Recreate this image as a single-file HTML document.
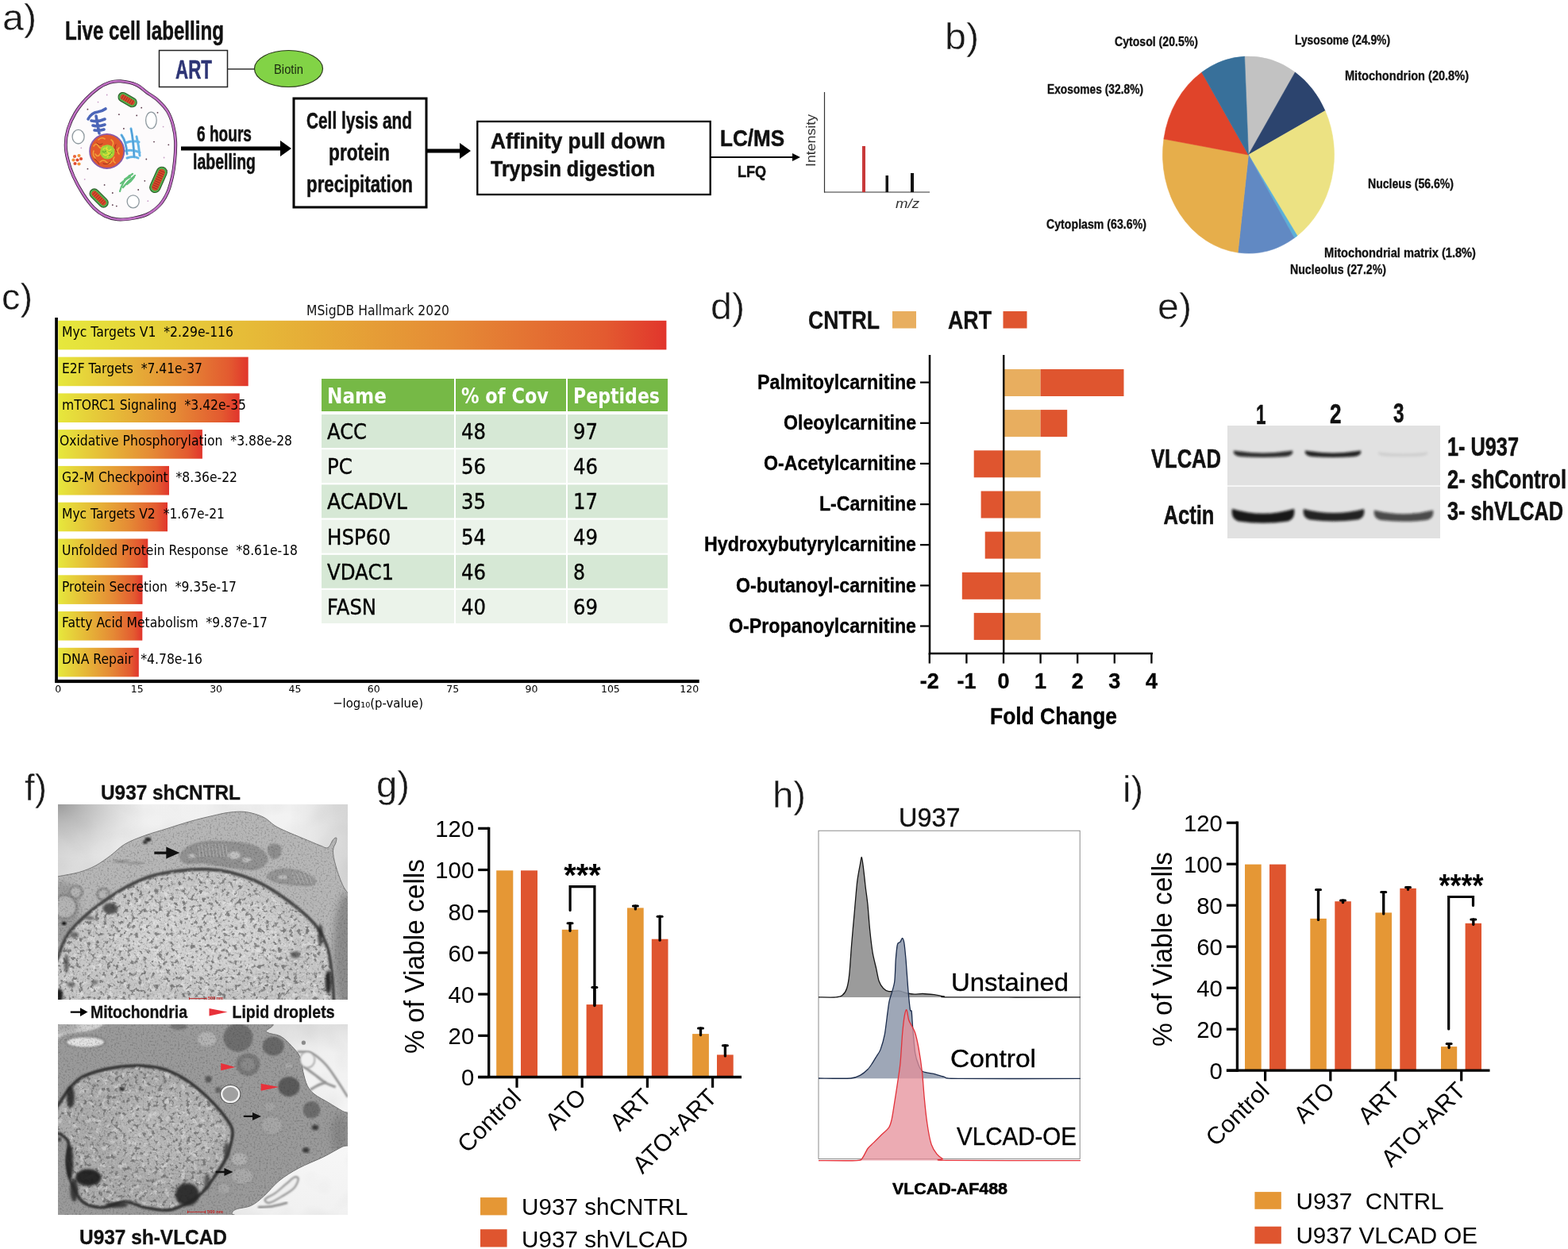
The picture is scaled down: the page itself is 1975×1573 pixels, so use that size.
<!DOCTYPE html>
<html lang="en">
<head>
<meta charset="utf-8">
<title>Figure</title>
<style>
html,body{margin:0;padding:0;background:#fff;}
body{width:1975px;height:1573px;overflow:hidden;}
svg{display:block;}
text{font-family:"Liberation Sans","DejaVu Sans",sans-serif;fill:#111;}
.b{font-weight:bold;}
.cb{font-weight:bold;stroke:#111;stroke-width:0.55px;stroke-linejoin:round;}
.cr{stroke:#111;stroke-width:0.35px;}
.dj{font-family:"DejaVu Sans","Liberation Sans",sans-serif;}
.lab{font-size:47px;fill:#1a1a1a;stroke:#fff;stroke-width:0.4px;}
</style>
</head>
<body>
<svg width="1975" height="1573" viewBox="0 0 1975 1573">
<defs>
<linearGradient id="gbar" x1="0" y1="0" x2="1" y2="0">
<stop offset="0" stop-color="#e6e83c"/>
<stop offset="0.3" stop-color="#e6bd38"/>
<stop offset="0.65" stop-color="#e58a35"/>
<stop offset="0.9" stop-color="#e35a30"/>
<stop offset="1" stop-color="#e1352c"/>
</linearGradient>
<filter id="blur1" x="-20%" y="-20%" width="140%" height="140%"><feGaussianBlur stdDeviation="0.8"/></filter>
<filter id="blur2" x="-20%" y="-20%" width="140%" height="140%"><feGaussianBlur stdDeviation="1.6"/></filter>
<filter id="blur4" x="-30%" y="-30%" width="160%" height="160%"><feGaussianBlur stdDeviation="4"/></filter>
<filter id="blur12" x="-50%" y="-50%" width="200%" height="200%"><feGaussianBlur stdDeviation="12"/></filter>
<filter id="nzDark" x="0" y="0" width="100%" height="100%" color-interpolation-filters="sRGB">
<feTurbulence type="fractalNoise" baseFrequency="0.2" numOctaves="3" seed="7" result="n"/>
<feColorMatrix in="n" type="matrix" values="0 0 0 0 0.38  0 0 0 0 0.38  0 0 0 0 0.38  6 0 0 0 -3.3"/>
</filter>
<filter id="nzLight" x="0" y="0" width="100%" height="100%" color-interpolation-filters="sRGB">
<feTurbulence type="fractalNoise" baseFrequency="0.14" numOctaves="3" seed="23" result="n"/>
<feColorMatrix in="n" type="matrix" values="0 0 0 0 0.93  0 0 0 0 0.93  0 0 0 0 0.93  0 5 0 0 -2.7"/>
</filter>
<filter id="nzFine" x="0" y="0" width="100%" height="100%" color-interpolation-filters="sRGB">
<feTurbulence type="fractalNoise" baseFrequency="0.45" numOctaves="2" seed="3" result="n"/>
<feColorMatrix in="n" type="matrix" values="0 0 0 0 0.2  0 0 0 0 0.2  0 0 0 0 0.2  3 0 0 0 -1.5"/>
</filter>
<filter id="nzCloud" x="0" y="0" width="100%" height="100%" color-interpolation-filters="sRGB">
<feTurbulence type="fractalNoise" baseFrequency="0.025" numOctaves="2" seed="11" result="n"/>
<feColorMatrix in="n" type="matrix" values="0 0 0 0 0.45  0 0 0 0 0.45  0 0 0 0 0.45  3 0 0 0 -1.4"/>
</filter>
<linearGradient id="vig1" x1="0" y1="0" x2="1" y2="0">
<stop offset="0" stop-color="#d8d8d8"/><stop offset="0.3" stop-color="#f0f0f0"/><stop offset="0.8" stop-color="#f2f2f2"/><stop offset="1" stop-color="#d6d6d6"/>
</linearGradient>
<radialGradient id="vig1b" cx="0.0" cy="0.0" r="0.3">
<stop offset="0" stop-color="#949494" stop-opacity="0.9"/><stop offset="0.5" stop-color="#b0b0b0" stop-opacity="0.45"/><stop offset="1" stop-color="#d0d0d0" stop-opacity="0"/>
</radialGradient>
<radialGradient id="vig2" cx="0.95" cy="0.6" r="0.9">
<stop offset="0" stop-color="#f8f8f8"/><stop offset="0.5" stop-color="#f0f0f0"/><stop offset="1" stop-color="#c0c0c0"/>
</radialGradient>
<clipPath id="clipf1"><rect x="73" y="1013" width="365" height="246"/></clipPath>
<clipPath id="clipf2"><rect x="73" y="1290" width="365" height="240"/></clipPath>
</defs>
<g id="panel-a">
<text x="3" y="38" font-size="47" class="lab" textLength="43" lengthAdjust="spacingAndGlyphs">a)</text>
<text x="82" y="50" font-size="33" class="cb" textLength="200" lengthAdjust="spacingAndGlyphs">Live cell labelling</text>
<rect x="200.5" y="63.5" width="86" height="46" fill="#fff" stroke="#222" stroke-width="1.5"/>
<text x="221" y="99" font-size="34" class="cb" textLength="46" lengthAdjust="spacingAndGlyphs" fill="#2e3575" style="fill:#2e3575;stroke:#2e3575">ART</text>
<line x1="287" y1="87" x2="320" y2="87" stroke="#333" stroke-width="1.3" />
<ellipse cx="363.5" cy="86.5" rx="43" ry="23" fill="#82d346" stroke="#2b3a1c" stroke-width="1.2"/>
<text x="345" y="93" font-size="17" textLength="37" lengthAdjust="spacingAndGlyphs" fill="#1b2a10" style="fill:#1b2a10">Biotin</text>
<g id="cell">
<path d="M151.9 102.3 C157.5 102.8 166.1 104.4 171.7 106.8 C177.3 109.2 180.9 113.5 185.5 116.8 C190.1 120.1 195.1 122.7 199.3 126.7 C203.6 130.7 208.1 135.3 211.2 140.6 C214.3 145.9 216.5 152.2 218.1 158.5 C219.8 164.8 220.8 171.1 221.1 178.4 C221.4 185.7 220.8 195.0 220.1 202.3 C219.4 209.6 218.6 215.6 217.1 222.2 C215.6 228.8 213.8 236.1 211.2 242.1 C208.6 248.0 205.6 253.3 201.3 258.0 C197.0 262.6 191.1 267.1 185.5 269.9 C179.9 272.7 174.0 273.8 167.7 274.9 C161.5 275.9 153.9 276.8 147.9 276.3 C142.0 275.8 137.1 274.3 132.1 271.9 C127.2 269.5 122.9 266.6 118.3 262.0 C113.7 257.3 108.7 250.7 104.5 244.1 C100.2 237.4 95.7 229.1 92.6 222.2 C89.5 215.2 87.3 208.9 85.7 202.3 C84.0 195.7 82.7 189.0 82.7 182.4 C82.7 175.8 83.7 169.1 85.7 162.5 C87.7 155.9 90.8 148.9 94.6 142.6 C98.4 136.3 103.5 130.0 108.4 124.7 C113.4 119.4 119.3 114.3 124.2 110.8 C129.2 107.3 133.4 105.3 138.1 103.8 C142.7 102.4 146.3 101.8 151.9 102.3 Z" fill="#fdfbfc" stroke="#2e1830" stroke-width="4"/>
<path d="M151.9 102.3 C157.5 102.8 166.1 104.4 171.7 106.8 C177.3 109.2 180.9 113.5 185.5 116.8 C190.1 120.1 195.1 122.7 199.3 126.7 C203.6 130.7 208.1 135.3 211.2 140.6 C214.3 145.9 216.5 152.2 218.1 158.5 C219.8 164.8 220.8 171.1 221.1 178.4 C221.4 185.7 220.8 195.0 220.1 202.3 C219.4 209.6 218.6 215.6 217.1 222.2 C215.6 228.8 213.8 236.1 211.2 242.1 C208.6 248.0 205.6 253.3 201.3 258.0 C197.0 262.6 191.1 267.1 185.5 269.9 C179.9 272.7 174.0 273.8 167.7 274.9 C161.5 275.9 153.9 276.8 147.9 276.3 C142.0 275.8 137.1 274.3 132.1 271.9 C127.2 269.5 122.9 266.6 118.3 262.0 C113.7 257.3 108.7 250.7 104.5 244.1 C100.2 237.4 95.7 229.1 92.6 222.2 C89.5 215.2 87.3 208.9 85.7 202.3 C84.0 195.7 82.7 189.0 82.7 182.4 C82.7 175.8 83.7 169.1 85.7 162.5 C87.7 155.9 90.8 148.9 94.6 142.6 C98.4 136.3 103.5 130.0 108.4 124.7 C113.4 119.4 119.3 114.3 124.2 110.8 C129.2 107.3 133.4 105.3 138.1 103.8 C142.7 102.4 146.3 101.8 151.9 102.3 Z" fill="none" stroke="#c070c4" stroke-width="2.6"/>
<circle cx="134.7" cy="119.5" r="0.9" fill="#c9a0c8"/>
<circle cx="149.9" cy="144.2" r="0.9" fill="#5a3a4a"/>
<circle cx="172.2" cy="145.4" r="0.9" fill="#5a3a4a"/>
<circle cx="205.6" cy="159.6" r="0.9" fill="#c9a0c8"/>
<circle cx="194.0" cy="178.6" r="0.9" fill="#5a3a4a"/>
<circle cx="212.3" cy="182.3" r="0.9" fill="#5a3a4a"/>
<circle cx="206.6" cy="198.5" r="0.9" fill="#c9a0c8"/>
<circle cx="184.3" cy="200.5" r="0.9" fill="#5a3a4a"/>
<circle cx="182.3" cy="227.8" r="0.9" fill="#5a3a4a"/>
<circle cx="186.3" cy="253.2" r="0.9" fill="#c9a0c8"/>
<circle cx="146.8" cy="259.6" r="0.9" fill="#5a3a4a"/>
<circle cx="141.8" cy="258.2" r="0.9" fill="#5a3a4a"/>
<circle cx="106.7" cy="225.8" r="0.9" fill="#c9a0c8"/>
<circle cx="131.6" cy="232.9" r="0.9" fill="#5a3a4a"/>
<circle cx="110.4" cy="137.7" r="0.9" fill="#5a3a4a"/>
<circle cx="123.5" cy="128.6" r="0.9" fill="#c9a0c8"/>
<circle cx="178.2" cy="135.7" r="0.9" fill="#5a3a4a"/>
<circle cx="155.9" cy="162.0" r="0.9" fill="#5a3a4a"/>
<circle cx="102.3" cy="186.3" r="0.9" fill="#c9a0c8"/>
<circle cx="110.4" cy="212.7" r="0.9" fill="#5a3a4a"/>
<circle cx="174.2" cy="239.0" r="0.9" fill="#5a3a4a"/>
<circle cx="210.6" cy="214.7" r="0.9" fill="#c9a0c8"/>
<circle cx="141.8" cy="243.0" r="0.9" fill="#5a3a4a"/>
<circle cx="198.5" cy="141.8" r="0.9" fill="#5a3a4a"/>
<path d="M111 150 q4 -8 12 -9 q6 -1 10 -4 M115 152 q8 2 17 -2 M117 158 q7 2 15 -1 M119 164 q6 1 12 -1 M121 146 q2 12 4 22" stroke="#4c66b8" stroke-width="3.6" fill="none" stroke-linecap="round" stroke-linejoin="round"/>
<path d="M153 170 q6 8 7 24 M165 162 q3 14 4 36 M172 172 q3 12 4 24 M158 180 q10 -4 17 -1 M158 190 q10 -2 18 2 M160 199 q8 -3 14 0" stroke="#62b4e6" stroke-width="3" fill="none" stroke-linecap="round"/>
<path d="M153 170 q6 8 7 24 M165 162 q3 14 4 36" stroke="#3f7fc0" stroke-width="0.7" fill="none"/>
<circle cx="134.700" cy="190.400" r="21.600" fill="#e2592b" stroke="#8a5aa8" stroke-width="1.8"/>
<path d="M118 184 q3 -5 6 0 t6 0 M120 194 q3 5 6 0 t6 -2 M140 176 q4 3 2 7 t4 6 M144 198 q-3 4 1 7 M126 204 q4 -4 8 0 t7 -1 M124 176 q4 -4 8 -1 M150 186 q-4 4 0 8 M118 190 q-2 5 2 9" stroke="#f2a03a" stroke-width="1.6" fill="none" stroke-linecap="round"/>
<path d="M122 180 q3 4 7 1 M146 182 q-3 5 1 9 M130 206 q5 2 9 -2 M119 200 q4 3 6 7" stroke="#9c2f1c" stroke-width="1" fill="none" stroke-linecap="round"/>
<circle cx="135.300" cy="191.400" r="9.200" fill="#9fd238"/>
<path d="M130 188 q3 -3 5 0 t5 0 M130 194 q3 3 6 0 t5 1 M135 185 q-2 4 1 7 t-1 6" stroke="#e6e23a" stroke-width="1.2" fill="none" stroke-linecap="round"/>
<path d="M129 191 q3 2 5 -1 M137 196 q3 -1 4 -4" stroke="#4e9a2a" stroke-width="0.9" fill="none" stroke-linecap="round"/>
<g transform="rotate(30 160.6 125.6)"><rect x="148.1" y="119.8" width="25.0" height="11.6" rx="5.8" fill="#52b04c" stroke="#2b5e2a" stroke-width="1.1"/><rect x="150.7" y="122.2" width="19.8" height="6.8" rx="3.4" fill="#d8482c"/><line x1="153.5" y1="122.6" x2="153.5" y2="128.6" stroke="#8c2a18" stroke-width="0.7"/><line x1="156.4" y1="122.6" x2="156.4" y2="128.6" stroke="#8c2a18" stroke-width="0.7"/><line x1="159.2" y1="122.6" x2="159.2" y2="128.6" stroke="#8c2a18" stroke-width="0.7"/><line x1="162.0" y1="122.6" x2="162.0" y2="128.6" stroke="#8c2a18" stroke-width="0.7"/><line x1="164.8" y1="122.6" x2="164.8" y2="128.6" stroke="#8c2a18" stroke-width="0.7"/><line x1="167.7" y1="122.6" x2="167.7" y2="128.6" stroke="#8c2a18" stroke-width="0.7"/></g>
<g transform="rotate(-66 199.5 226.4)"><rect x="182.5" y="219.8" width="34.0" height="13.2" rx="6.6" fill="#52b04c" stroke="#2b5e2a" stroke-width="1.1"/><rect x="185.1" y="222.2" width="28.8" height="8.4" rx="4.2" fill="#d8482c"/><line x1="188.0" y1="222.6" x2="188.0" y2="230.2" stroke="#8c2a18" stroke-width="0.7"/><line x1="190.9" y1="222.6" x2="190.9" y2="230.2" stroke="#8c2a18" stroke-width="0.7"/><line x1="193.7" y1="222.6" x2="193.7" y2="230.2" stroke="#8c2a18" stroke-width="0.7"/><line x1="196.6" y1="222.6" x2="196.6" y2="230.2" stroke="#8c2a18" stroke-width="0.7"/><line x1="199.5" y1="222.6" x2="199.5" y2="230.2" stroke="#8c2a18" stroke-width="0.7"/><line x1="202.4" y1="222.6" x2="202.4" y2="230.2" stroke="#8c2a18" stroke-width="0.7"/><line x1="205.3" y1="222.6" x2="205.3" y2="230.2" stroke="#8c2a18" stroke-width="0.7"/><line x1="208.1" y1="222.6" x2="208.1" y2="230.2" stroke="#8c2a18" stroke-width="0.7"/><line x1="211.0" y1="222.6" x2="211.0" y2="230.2" stroke="#8c2a18" stroke-width="0.7"/></g>
<g transform="rotate(45 124.6 249.5)"><rect x="110.6" y="243.7" width="28.0" height="11.6" rx="5.8" fill="#52b04c" stroke="#2b5e2a" stroke-width="1.1"/><rect x="113.2" y="246.1" width="22.8" height="6.8" rx="3.4" fill="#d8482c"/><line x1="116.0" y1="246.5" x2="116.0" y2="252.5" stroke="#8c2a18" stroke-width="0.7"/><line x1="118.9" y1="246.5" x2="118.9" y2="252.5" stroke="#8c2a18" stroke-width="0.7"/><line x1="121.7" y1="246.5" x2="121.7" y2="252.5" stroke="#8c2a18" stroke-width="0.7"/><line x1="124.6" y1="246.5" x2="124.6" y2="252.5" stroke="#8c2a18" stroke-width="0.7"/><line x1="127.4" y1="246.5" x2="127.4" y2="252.5" stroke="#8c2a18" stroke-width="0.7"/><line x1="130.3" y1="246.5" x2="130.3" y2="252.5" stroke="#8c2a18" stroke-width="0.7"/><line x1="133.1" y1="246.5" x2="133.1" y2="252.5" stroke="#8c2a18" stroke-width="0.7"/></g>
<ellipse cx="190.4" cy="151.5" rx="6.8" ry="10.3" fill="#fff" stroke="#8f9aa0" stroke-width="1.3"/>
<ellipse cx="98.6" cy="172.2" rx="7.5" ry="8.8" fill="#fff" stroke="#8f9aa0" stroke-width="1.3"/>
<ellipse cx="167.7" cy="253.8" rx="7.5" ry="8" fill="#fff" stroke="#8f9aa0" stroke-width="1.3"/>
<path d="M151 241 q3 -12 12 -20 M155 236 q6 -8 15 -15 M152 231 q7 -6 12 -8 M160 232 q5 -3 9 -9 M157 226 l10 -7" stroke="#62c07a" stroke-width="2.2" fill="none" stroke-linecap="round"/>
<circle cx="94" cy="197" r="2.100" fill="#e8643a"/>
<circle cx="99.5" cy="196" r="2.100" fill="#f0913a"/>
<circle cx="92.5" cy="201.5" r="2.100" fill="#f0913a"/>
<circle cx="97.5" cy="201.5" r="2.100" fill="#e04a30"/>
<circle cx="102" cy="200" r="2.100" fill="#e04a30"/>
<circle cx="94.5" cy="206" r="2.100" fill="#e04a30"/>
<circle cx="99.5" cy="206.5" r="2.100" fill="#f0913a"/>
</g>
<text x="248" y="178" font-size="27" class="cb" textLength="69" lengthAdjust="spacingAndGlyphs">6 hours</text>
<text x="243" y="213" font-size="27" class="cb" textLength="79" lengthAdjust="spacingAndGlyphs">labelling</text>
<path d="M228 184.5 H353 V177 L367 187 L353 197 V189.5 H228 Z" fill="#000"/>
<rect x="370" y="124" width="167" height="137" fill="#fff" stroke="#000" stroke-width="3"/>
<text x="386" y="162" font-size="30" class="cb" textLength="133" lengthAdjust="spacingAndGlyphs">Cell lysis and</text>
<text x="414" y="202" font-size="30" class="cb" textLength="77" lengthAdjust="spacingAndGlyphs">protein</text>
<text x="386" y="242" font-size="30" class="cb" textLength="134" lengthAdjust="spacingAndGlyphs">precipitation</text>
<path d="M538 187.5 H579 V180 L593 190 L579 200 V192.5 H538 Z" fill="#000"/>
<rect x="601.3" y="153" width="293.4" height="92" fill="#fff" stroke="#000" stroke-width="2.3"/>
<text x="618" y="187" font-size="28" class="cb" textLength="220" lengthAdjust="spacingAndGlyphs">Affinity pull down</text>
<text x="618" y="222" font-size="28" class="cb" textLength="207" lengthAdjust="spacingAndGlyphs">Trypsin digestion</text>
<text x="907" y="184" font-size="30" class="cb" textLength="81" lengthAdjust="spacingAndGlyphs">LC/MS</text>
<text x="929" y="223" font-size="21" class="cb" textLength="36" lengthAdjust="spacingAndGlyphs">LFQ</text>
<path d="M895 197.0 H998 V193 L1008 198 L998 203 V199.0 H895 Z" fill="#000"/>
<line x1="1038.5" y1="116" x2="1038.5" y2="242.5" stroke="#333" stroke-width="1.2" />
<line x1="1038" y1="242" x2="1171" y2="242" stroke="#333" stroke-width="1.2" />
<rect x="1086" y="184" width="4" height="58" fill="#c8393a" />
<rect x="1115.5" y="221" width="3.5" height="21" fill="#111" />
<rect x="1147" y="218" width="4" height="24" fill="#111" />
<text x="1027" y="210" font-size="16" textLength="66" lengthAdjust="spacingAndGlyphs" fill="#333" style="fill:#333" transform="rotate(-90 1027 210)">Intensity</text>
<text x="1128" y="262" font-size="17" textLength="30" lengthAdjust="spacingAndGlyphs" fill="#333" style="fill:#333" font-style="italic">m/z</text>
</g>
<g id="panel-b">
<text x="1190" y="62" font-size="47" class="lab" textLength="43" lengthAdjust="spacingAndGlyphs">b)</text>
<path d="M1572.5 195 L1567.6 71.1 A108 124 0 0 1 1631.3 91.0 Z" fill="#c2c2c2" stroke="#c2c2c2" stroke-width="0.6"/>
<path d="M1572.5 195 L1631.3 91.0 A108 124 0 0 1 1669.1 139.6 Z" fill="#2c446e" stroke="#2c446e" stroke-width="0.6"/>
<path d="M1572.5 195 L1669.1 139.6 A108 124 0 0 1 1634.0 296.9 Z" fill="#ece283" stroke="#ece283" stroke-width="0.6"/>
<path d="M1572.5 195 L1634.0 296.9 A108 124 0 0 1 1630.2 299.8 Z" fill="#5bb0d8" stroke="#5bb0d8" stroke-width="0.6"/>
<path d="M1572.5 195 L1630.2 299.8 A108 124 0 0 1 1559.2 318.1 Z" fill="#6189c3" stroke="#6189c3" stroke-width="0.6"/>
<path d="M1572.5 195 L1559.2 318.1 A108 124 0 0 1 1465.9 175.0 Z" fill="#e6ae4b" stroke="#e6ae4b" stroke-width="0.6"/>
<path d="M1572.5 195 L1465.9 175.0 A108 124 0 0 1 1513.7 91.0 Z" fill="#e0442a" stroke="#e0442a" stroke-width="0.6"/>
<path d="M1572.5 195 L1513.7 91.0 A108 124 0 0 1 1567.6 71.1 Z" fill="#38709a" stroke="#38709a" stroke-width="0.6"/>
<text x="1404" y="58" font-size="17" class="b cr" textLength="105" lengthAdjust="spacingAndGlyphs">Cytosol (20.5%)</text>
<text x="1631" y="56" font-size="17" class="b cr" textLength="120" lengthAdjust="spacingAndGlyphs">Lysosome (24.9%)</text>
<text x="1694" y="101" font-size="17" class="b cr" textLength="156" lengthAdjust="spacingAndGlyphs">Mitochondrion (20.8%)</text>
<text x="1319" y="118" font-size="17" class="b cr" textLength="121" lengthAdjust="spacingAndGlyphs">Exosomes (32.8%)</text>
<text x="1723" y="237" font-size="17" class="b cr" textLength="108" lengthAdjust="spacingAndGlyphs">Nucleus (56.6%)</text>
<text x="1318" y="288" font-size="17" class="b cr" textLength="126" lengthAdjust="spacingAndGlyphs">Cytoplasm (63.6%)</text>
<text x="1668" y="324" font-size="17" class="b cr" textLength="191" lengthAdjust="spacingAndGlyphs">Mitochondrial matrix (1.8%)</text>
<text x="1625" y="345" font-size="17" class="b cr" textLength="121" lengthAdjust="spacingAndGlyphs">Nucleolus (27.2%)</text>
</g>
<g id="panel-c">
<text x="2" y="390" font-size="47" class="lab" textLength="39" lengthAdjust="spacingAndGlyphs">c)</text>
<text x="386" y="397" font-size="17.5" class="dj" textLength="180" lengthAdjust="spacingAndGlyphs">MSigDB Hallmark 2020</text>
<rect x="73.3" y="403.8" width="766.1" height="36.6" fill="url(#gbar)" />
<text x="78" y="424.1" font-size="17.5" class="dj" textLength="216" lengthAdjust="spacingAndGlyphs" fill="#000" style="fill:#000" xml:space="preserve">Myc Targets V1  *2.29e-116</text>
<rect x="73.3" y="449.6" width="239.4" height="36.6" fill="url(#gbar)" />
<text x="78" y="469.9" font-size="17.5" class="dj" textLength="177" lengthAdjust="spacingAndGlyphs" fill="#000" style="fill:#000" xml:space="preserve">E2F Targets  *7.41e-37</text>
<rect x="73.3" y="495.4" width="228.4" height="36.6" fill="url(#gbar)" />
<text x="78" y="515.7" font-size="17.5" class="dj" textLength="232" lengthAdjust="spacingAndGlyphs" fill="#000" style="fill:#000" xml:space="preserve">mTORC1 Signaling  *3.42e-35</text>
<rect x="73.3" y="541.1" width="181.6" height="36.6" fill="url(#gbar)" />
<text x="75" y="561.4" font-size="17.5" class="dj" textLength="293" lengthAdjust="spacingAndGlyphs" fill="#000" style="fill:#000" xml:space="preserve">Oxidative Phosphorylation  *3.88e-28</text>
<rect x="73.3" y="586.9" width="139.7" height="36.6" fill="url(#gbar)" />
<text x="78" y="607.2" font-size="17.5" class="dj" textLength="221" lengthAdjust="spacingAndGlyphs" fill="#000" style="fill:#000" xml:space="preserve">G2-M Checkpoint  *8.36e-22</text>
<rect x="73.3" y="632.7" width="137.7" height="36.6" fill="url(#gbar)" />
<text x="78" y="653.0" font-size="17.5" class="dj" textLength="205" lengthAdjust="spacingAndGlyphs" fill="#000" style="fill:#000" xml:space="preserve">Myc Targets V2  *1.67e-21</text>
<rect x="73.3" y="678.5" width="113.0" height="36.6" fill="url(#gbar)" />
<text x="78" y="698.8" font-size="17.5" class="dj" textLength="297" lengthAdjust="spacingAndGlyphs" fill="#000" style="fill:#000" xml:space="preserve">Unfolded Protein Response  *8.61e-18</text>
<rect x="73.3" y="724.3" width="106.2" height="36.6" fill="url(#gbar)" />
<text x="78" y="744.6" font-size="17.5" class="dj" textLength="220" lengthAdjust="spacingAndGlyphs" fill="#000" style="fill:#000" xml:space="preserve">Protein Secretion  *9.35e-17</text>
<rect x="73.3" y="770.0" width="106.0" height="36.6" fill="url(#gbar)" />
<text x="78" y="790.3" font-size="17.5" class="dj" textLength="259" lengthAdjust="spacingAndGlyphs" fill="#000" style="fill:#000" xml:space="preserve">Fatty Acid Metabolism  *9.87e-17</text>
<rect x="73.3" y="815.8" width="101.5" height="36.6" fill="url(#gbar)" />
<text x="78" y="836.1" font-size="17.5" class="dj" textLength="177" lengthAdjust="spacingAndGlyphs" fill="#000" style="fill:#000" xml:space="preserve">DNA Repair  *4.78e-16</text>
<rect x="69.2" y="400" width="3.7" height="460" fill="#000" />
<rect x="69.2" y="855.9" width="811.5" height="4.2" fill="#000" />
<text x="73.3" y="872" font-size="12.5" class="dj" text-anchor="middle" fill="#000" style="fill:#000">0</text>
<text x="172.7" y="872" font-size="12.5" class="dj" text-anchor="middle" fill="#000" style="fill:#000">15</text>
<text x="272.1" y="872" font-size="12.5" class="dj" text-anchor="middle" fill="#000" style="fill:#000">30</text>
<text x="371.4" y="872" font-size="12.5" class="dj" text-anchor="middle" fill="#000" style="fill:#000">45</text>
<text x="470.8" y="872" font-size="12.5" class="dj" text-anchor="middle" fill="#000" style="fill:#000">60</text>
<text x="570.2" y="872" font-size="12.5" class="dj" text-anchor="middle" fill="#000" style="fill:#000">75</text>
<text x="669.5" y="872" font-size="12.5" class="dj" text-anchor="middle" fill="#000" style="fill:#000">90</text>
<text x="768.9" y="872" font-size="12.5" class="dj" text-anchor="middle" fill="#000" style="fill:#000">105</text>
<text x="868.3" y="872" font-size="12.5" class="dj" text-anchor="middle" fill="#000" style="fill:#000">120</text>
<text x="419" y="891" font-size="16" class="dj" textLength="114" lengthAdjust="spacingAndGlyphs" fill="#000" style="fill:#000">−log₁₀(p-value)</text>
<rect x="405" y="477.0" width="167" height="41" fill="#76b946" />
<text x="412" y="508.0" font-size="26" class="dj b" textLength="75" lengthAdjust="spacingAndGlyphs" fill="#fff" style="fill:#fff">Name</text>
<rect x="574" y="477.0" width="139" height="41" fill="#76b946" />
<text x="581" y="508.0" font-size="26" class="dj b" textLength="110" lengthAdjust="spacingAndGlyphs" fill="#fff" style="fill:#fff">% of Cov</text>
<rect x="715" y="477.0" width="126" height="41" fill="#76b946" />
<text x="722" y="508.0" font-size="26" class="dj b" textLength="109" lengthAdjust="spacingAndGlyphs" fill="#fff" style="fill:#fff">Peptides</text>
<rect x="405" y="522.0" width="167" height="42" fill="#d6e8d5" />
<text x="412" y="553.0" font-size="26" class="dj cr" textLength="50" lengthAdjust="spacingAndGlyphs" fill="#000" style="fill:#000;stroke:#000">ACC</text>
<rect x="574" y="522.0" width="139" height="42" fill="#d6e8d5" />
<text x="581" y="553.0" font-size="26" class="dj cr" textLength="31" lengthAdjust="spacingAndGlyphs" fill="#000" style="fill:#000;stroke:#000">48</text>
<rect x="715" y="522.0" width="126" height="42" fill="#d6e8d5" />
<text x="722" y="553.0" font-size="26" class="dj cr" textLength="31" lengthAdjust="spacingAndGlyphs" fill="#000" style="fill:#000;stroke:#000">97</text>
<rect x="405" y="566.2" width="167" height="42" fill="#ebf3ea" />
<text x="412" y="597.2" font-size="26" class="dj cr" textLength="32" lengthAdjust="spacingAndGlyphs" fill="#000" style="fill:#000;stroke:#000">PC</text>
<rect x="574" y="566.2" width="139" height="42" fill="#ebf3ea" />
<text x="581" y="597.2" font-size="26" class="dj cr" textLength="31" lengthAdjust="spacingAndGlyphs" fill="#000" style="fill:#000;stroke:#000">56</text>
<rect x="715" y="566.2" width="126" height="42" fill="#ebf3ea" />
<text x="722" y="597.2" font-size="26" class="dj cr" textLength="31" lengthAdjust="spacingAndGlyphs" fill="#000" style="fill:#000;stroke:#000">46</text>
<rect x="405" y="610.4" width="167" height="42" fill="#d6e8d5" />
<text x="412" y="641.4" font-size="26" class="dj cr" textLength="101" lengthAdjust="spacingAndGlyphs" fill="#000" style="fill:#000;stroke:#000">ACADVL</text>
<rect x="574" y="610.4" width="139" height="42" fill="#d6e8d5" />
<text x="581" y="641.4" font-size="26" class="dj cr" textLength="31" lengthAdjust="spacingAndGlyphs" fill="#000" style="fill:#000;stroke:#000">35</text>
<rect x="715" y="610.4" width="126" height="42" fill="#d6e8d5" />
<text x="722" y="641.4" font-size="26" class="dj cr" textLength="31" lengthAdjust="spacingAndGlyphs" fill="#000" style="fill:#000;stroke:#000">17</text>
<rect x="405" y="654.6" width="167" height="42" fill="#ebf3ea" />
<text x="412" y="685.6" font-size="26" class="dj cr" textLength="80" lengthAdjust="spacingAndGlyphs" fill="#000" style="fill:#000;stroke:#000">HSP60</text>
<rect x="574" y="654.6" width="139" height="42" fill="#ebf3ea" />
<text x="581" y="685.6" font-size="26" class="dj cr" textLength="31" lengthAdjust="spacingAndGlyphs" fill="#000" style="fill:#000;stroke:#000">54</text>
<rect x="715" y="654.6" width="126" height="42" fill="#ebf3ea" />
<text x="722" y="685.6" font-size="26" class="dj cr" textLength="31" lengthAdjust="spacingAndGlyphs" fill="#000" style="fill:#000;stroke:#000">49</text>
<rect x="405" y="698.8" width="167" height="42" fill="#d6e8d5" />
<text x="412" y="729.8" font-size="26" class="dj cr" textLength="84" lengthAdjust="spacingAndGlyphs" fill="#000" style="fill:#000;stroke:#000">VDAC1</text>
<rect x="574" y="698.8" width="139" height="42" fill="#d6e8d5" />
<text x="581" y="729.8" font-size="26" class="dj cr" textLength="31" lengthAdjust="spacingAndGlyphs" fill="#000" style="fill:#000;stroke:#000">46</text>
<rect x="715" y="698.8" width="126" height="42" fill="#d6e8d5" />
<text x="722" y="729.8" font-size="26" class="dj cr" textLength="15" lengthAdjust="spacingAndGlyphs" fill="#000" style="fill:#000;stroke:#000">8</text>
<rect x="405" y="743.0" width="167" height="42" fill="#ebf3ea" />
<text x="412" y="774.0" font-size="26" class="dj cr" textLength="62" lengthAdjust="spacingAndGlyphs" fill="#000" style="fill:#000;stroke:#000">FASN</text>
<rect x="574" y="743.0" width="139" height="42" fill="#ebf3ea" />
<text x="581" y="774.0" font-size="26" class="dj cr" textLength="31" lengthAdjust="spacingAndGlyphs" fill="#000" style="fill:#000;stroke:#000">40</text>
<rect x="715" y="743.0" width="126" height="42" fill="#ebf3ea" />
<text x="722" y="774.0" font-size="26" class="dj cr" textLength="31" lengthAdjust="spacingAndGlyphs" fill="#000" style="fill:#000;stroke:#000">69</text>
</g>
<g id="panel-d">
<text x="895" y="402" font-size="47" class="lab" textLength="43" lengthAdjust="spacingAndGlyphs">d)</text>
<text x="1018" y="413.5" font-size="30.5" class="b cr" textLength="90" lengthAdjust="spacingAndGlyphs">CNTRL</text>
<rect x="1124" y="392" width="30" height="21.5" fill="#e8ae5f" />
<text x="1194" y="413.5" font-size="30.5" class="b cr" textLength="55" lengthAdjust="spacingAndGlyphs">ART</text>
<rect x="1263.5" y="392" width="30" height="21.5" fill="#df552f" />
<rect x="1264" y="465.0" width="46.6" height="34" fill="#e8ae5f" />
<rect x="1310.6" y="465.0" width="104.9" height="34" fill="#df552f" />
<line x1="1159" y1="481.6" x2="1171" y2="481.6" stroke="#000" stroke-width="2.2" />
<text x="954" y="489.8" font-size="25" class="b cr" textLength="200" lengthAdjust="spacingAndGlyphs" fill="#000" style="fill:#000;stroke:#000">Palmitoylcarnitine</text>
<rect x="1264" y="516.1" width="46.6" height="34" fill="#e8ae5f" />
<rect x="1310.6" y="516.1" width="33.6" height="34" fill="#df552f" />
<line x1="1159" y1="532.8" x2="1171" y2="532.8" stroke="#000" stroke-width="2.2" />
<text x="987" y="540.9" font-size="25" class="b cr" textLength="167" lengthAdjust="spacingAndGlyphs" fill="#000" style="fill:#000;stroke:#000">Oleoylcarnitine</text>
<rect x="1264" y="567.3" width="46.6" height="34" fill="#e8ae5f" />
<rect x="1226.7" y="567.3" width="37.3" height="34" fill="#df552f" />
<line x1="1159" y1="583.9" x2="1171" y2="583.9" stroke="#000" stroke-width="2.2" />
<text x="962" y="592.1" font-size="25" class="b cr" textLength="192" lengthAdjust="spacingAndGlyphs" fill="#000" style="fill:#000;stroke:#000">O-Acetylcarnitine</text>
<rect x="1264" y="618.5" width="46.6" height="34" fill="#e8ae5f" />
<rect x="1235.6" y="618.5" width="28.4" height="34" fill="#df552f" />
<line x1="1159" y1="635.1" x2="1171" y2="635.1" stroke="#000" stroke-width="2.2" />
<text x="1032" y="643.2" font-size="25" class="b cr" textLength="122" lengthAdjust="spacingAndGlyphs" fill="#000" style="fill:#000;stroke:#000">L-Carnitine</text>
<rect x="1264" y="669.6" width="46.6" height="34" fill="#e8ae5f" />
<rect x="1240.7" y="669.6" width="23.3" height="34" fill="#df552f" />
<line x1="1159" y1="686.2" x2="1171" y2="686.2" stroke="#000" stroke-width="2.2" />
<text x="887" y="694.4" font-size="25" class="b cr" textLength="267" lengthAdjust="spacingAndGlyphs" fill="#000" style="fill:#000;stroke:#000">Hydroxybutyrylcarnitine</text>
<rect x="1264" y="720.8" width="46.6" height="34" fill="#e8ae5f" />
<rect x="1211.8" y="720.8" width="52.2" height="34" fill="#df552f" />
<line x1="1159" y1="737.4" x2="1171" y2="737.4" stroke="#000" stroke-width="2.2" />
<text x="927" y="745.5" font-size="25" class="b cr" textLength="227" lengthAdjust="spacingAndGlyphs" fill="#000" style="fill:#000;stroke:#000">O-butanoyl-carnitine</text>
<rect x="1264" y="771.9" width="46.6" height="34" fill="#e8ae5f" />
<rect x="1226.7" y="771.9" width="37.3" height="34" fill="#df552f" />
<line x1="1159" y1="788.5" x2="1171" y2="788.5" stroke="#000" stroke-width="2.2" />
<text x="918" y="796.7" font-size="25" class="b cr" textLength="236" lengthAdjust="spacingAndGlyphs" fill="#000" style="fill:#000;stroke:#000">O-Propanoylcarnitine</text>
<line x1="1171" y1="447" x2="1171" y2="824.3" stroke="#000" stroke-width="2.5" />
<line x1="1264.2" y1="447" x2="1264.2" y2="823" stroke="#000" stroke-width="2.4" />
<line x1="1169.8" y1="823" x2="1452" y2="823" stroke="#000" stroke-width="2.6" />
<line x1="1170.8" y1="823" x2="1170.8" y2="835.5" stroke="#000" stroke-width="2.3" />
<text x="1170.8" y="867" font-size="27" class="b cr" text-anchor="middle" fill="#000" style="fill:#000;stroke:#000">-2</text>
<line x1="1217.4" y1="823" x2="1217.4" y2="835.5" stroke="#000" stroke-width="2.3" />
<text x="1217.4" y="867" font-size="27" class="b cr" text-anchor="middle" fill="#000" style="fill:#000;stroke:#000">-1</text>
<line x1="1264.0" y1="823" x2="1264.0" y2="835.5" stroke="#000" stroke-width="2.3" />
<text x="1264.0" y="867" font-size="27" class="b cr" text-anchor="middle" fill="#000" style="fill:#000;stroke:#000">0</text>
<line x1="1310.6" y1="823" x2="1310.6" y2="835.5" stroke="#000" stroke-width="2.3" />
<text x="1310.6" y="867" font-size="27" class="b cr" text-anchor="middle" fill="#000" style="fill:#000;stroke:#000">1</text>
<line x1="1357.2" y1="823" x2="1357.2" y2="835.5" stroke="#000" stroke-width="2.3" />
<text x="1357.2" y="867" font-size="27" class="b cr" text-anchor="middle" fill="#000" style="fill:#000;stroke:#000">2</text>
<line x1="1403.8" y1="823" x2="1403.8" y2="835.5" stroke="#000" stroke-width="2.3" />
<text x="1403.8" y="867" font-size="27" class="b cr" text-anchor="middle" fill="#000" style="fill:#000;stroke:#000">3</text>
<line x1="1450.4" y1="823" x2="1450.4" y2="835.5" stroke="#000" stroke-width="2.3" />
<text x="1450.4" y="867" font-size="27" class="b cr" text-anchor="middle" fill="#000" style="fill:#000;stroke:#000">4</text>
<text x="1247" y="912" font-size="29.5" class="b cr" textLength="160" lengthAdjust="spacingAndGlyphs" fill="#000" style="fill:#000;stroke:#000">Fold Change</text>
</g>
<g id="panel-e">
<text x="1458" y="402" font-size="47" class="lab" textLength="43" lengthAdjust="spacingAndGlyphs">e)</text>
<rect x="1546" y="536" width="268" height="142" fill="#e1e1e1" />
<rect x="1546" y="611.3" width="268" height="1.6" fill="#fbfbfb" />
<g filter="url(#blur2)">
<path d="M1554.0 567.6 Q1591.0 573.2 1628.0 567.6 Q1630.0 573.6 1620.0 575.0 Q1591.0 577.1 1562.0 575.0 Q1552.0 573.6 1554.0 567.6 Z" fill="#111" fill-opacity="0.85"/>
<path d="M1644.0 567.6 Q1679.0 573.2 1714.0 567.6 Q1716.0 573.6 1706.0 575.0 Q1679.0 577.1 1652.0 575.0 Q1642.0 573.6 1644.0 567.6 Z" fill="#111" fill-opacity="0.9"/>
<path d="M1736.0 569.2 Q1767.0 573.2 1798.0 569.2 Q1800.0 573.5 1790.0 574.5 Q1767.0 576.0 1744.0 574.5 Q1734.0 573.5 1736.0 569.2 Z" fill="#111" fill-opacity="0.08"/>
<path d="M1552.0 640.8 Q1591.0 652.8 1630.0 640.8 Q1632.0 653.5 1622.0 656.5 Q1591.0 661.0 1560.0 656.5 Q1550.0 653.5 1552.0 640.8 Z" fill="#111" fill-opacity="0.95"/>
<path d="M1642.0 640.9 Q1680.0 651.2 1718.0 640.9 Q1720.0 651.9 1710.0 654.5 Q1680.0 658.4 1650.0 654.5 Q1640.0 651.9 1642.0 640.9 Z" fill="#111" fill-opacity="0.9"/>
<path d="M1731.0 642.4 Q1768.0 652.0 1805.0 642.4 Q1807.0 652.6 1797.0 655.0 Q1768.0 658.6 1739.0 655.0 Q1729.0 652.6 1731.0 642.4 Z" fill="#111" fill-opacity="0.72"/>
</g>
<text x="1582" y="533.5" font-size="35" class="cb" textLength="12.5" lengthAdjust="spacingAndGlyphs">1</text>
<text x="1675" y="532.5" font-size="35" class="cb" textLength="14.5" lengthAdjust="spacingAndGlyphs">2</text>
<text x="1755" y="532" font-size="35" class="cb" textLength="13.5" lengthAdjust="spacingAndGlyphs">3</text>
<text x="1450" y="588.7" font-size="33" class="cb" textLength="88" lengthAdjust="spacingAndGlyphs">VLCAD</text>
<text x="1465.5" y="659.5" font-size="33" class="cb" textLength="64" lengthAdjust="spacingAndGlyphs">Actin</text>
<text x="1823" y="574" font-size="33" class="cb" textLength="90" lengthAdjust="spacingAndGlyphs">1- U937</text>
<text x="1823" y="615" font-size="33" class="cb" textLength="150" lengthAdjust="spacingAndGlyphs">2- shControl</text>
<text x="1823" y="655" font-size="33" class="cb" textLength="146" lengthAdjust="spacingAndGlyphs">3- shVLCAD</text>
</g>
<g id="panel-f">
<text x="31" y="1007.5" font-size="47" class="lab" textLength="28" lengthAdjust="spacingAndGlyphs">f)</text>
<text x="127" y="1007.3" font-size="25.5" class="b cr" textLength="176" lengthAdjust="spacingAndGlyphs">U937 shCNTRL</text>
<clipPath id="c1cell"><path d="M18.6 1112.8 C23.4 1085.2 38.1 1110.7 47.1 1109.2 C56.1 1107.8 64.0 1105.7 72.7 1103.9 C81.5 1102.1 91.6 1100.8 99.4 1098.6 C107.3 1096.3 113.4 1093.9 120.1 1090.4 C126.8 1086.8 133.4 1081.8 139.7 1077.2 C145.9 1072.6 150.3 1067.1 157.5 1063.0 C164.6 1058.8 173.5 1055.6 182.4 1052.3 C191.3 1049.0 201.4 1046.4 210.9 1043.4 C220.4 1040.4 229.8 1037.2 239.3 1034.5 C248.8 1031.8 259.5 1029.3 267.8 1027.4 C276.1 1025.5 282.1 1023.9 289.2 1023.1 C296.3 1022.3 303.4 1021.7 310.5 1022.7 C317.6 1023.8 326.0 1026.3 331.9 1029.2 C337.8 1032.0 341.4 1036.9 346.1 1039.8 C350.9 1042.8 354.4 1044.3 360.4 1047.0 C366.3 1049.6 374.6 1052.9 381.7 1055.9 C388.8 1058.8 397.9 1062.8 403.1 1064.8 C408.3 1066.7 410.3 1068.8 413.0 1067.6 C415.8 1066.4 417.7 1059.7 419.5 1057.6 C421.2 1055.6 423.1 1054.5 423.7 1055.1 C424.3 1055.7 423.7 1058.5 423.0 1061.2 C422.3 1063.9 419.5 1066.4 419.5 1071.2 C419.4 1075.9 420.6 1082.4 422.7 1089.7 C424.7 1096.9 427.7 1106.3 431.6 1114.6 C435.4 1122.9 439.9 1124.7 445.8 1139.5 C451.7 1154.3 463.6 1181.0 467.2 1203.6 C470.7 1226.1 541.9 1262.9 467.2 1274.8 C392.4 1286.6 93.4 1301.8 18.6 1274.8 C-56.1 1247.8 13.9 1140.4 18.6 1112.8 Z"/></clipPath>
<clipPath id="c1nuc"><path d="M54.2 1274.8 C55.4 1264.1 58.5 1242.7 61.4 1232.1 C64.2 1221.4 68.4 1217.8 71.3 1210.7 C74.3 1203.6 76.1 1195.9 79.2 1189.3 C82.2 1182.8 84.5 1178.1 89.8 1171.5 C95.2 1165.0 104.1 1156.4 111.2 1150.2 C118.3 1144.0 124.8 1139.5 132.5 1134.2 C140.3 1128.8 148.0 1123.2 157.5 1118.1 C167.0 1113.1 178.2 1107.5 189.5 1103.9 C200.8 1100.3 213.2 1098.3 225.1 1096.8 C237.0 1095.3 250.0 1094.7 260.7 1095.0 C271.4 1095.3 279.1 1096.2 289.2 1098.6 C299.3 1100.9 311.1 1104.8 321.2 1109.2 C331.3 1113.7 340.2 1119.0 349.7 1125.3 C359.2 1131.5 369.9 1139.5 378.2 1146.6 C386.5 1153.7 393.9 1160.3 399.5 1168.0 C405.2 1175.7 409.0 1184.0 412.0 1192.9 C414.9 1201.8 416.0 1210.1 417.3 1221.4 C418.7 1232.6 419.7 1248.1 420.2 1260.5 C420.6 1273.0 481.2 1290.2 420.2 1296.1 C359.2 1302.1 115.2 1299.7 54.2 1296.1 C-6.7 1292.6 53.1 1285.4 54.2 1274.8 Z"/></clipPath>
<g clip-path="url(#clipf1)">
<rect x="73" y="1013" width="365" height="246" fill="url(#vig1)"/>
<rect x="73" y="1013" width="365" height="246" fill="url(#vig1b)"/>
<rect x="73" y="1013" width="365" height="246" filter="url(#nzCloud)" opacity="0.06"/>
<path d="M18.6 1112.8 C23.4 1085.2 38.1 1110.7 47.1 1109.2 C56.1 1107.8 64.0 1105.7 72.7 1103.9 C81.5 1102.1 91.6 1100.8 99.4 1098.6 C107.3 1096.3 113.4 1093.9 120.1 1090.4 C126.8 1086.8 133.4 1081.8 139.7 1077.2 C145.9 1072.6 150.3 1067.1 157.5 1063.0 C164.6 1058.8 173.5 1055.6 182.4 1052.3 C191.3 1049.0 201.4 1046.4 210.9 1043.4 C220.4 1040.4 229.8 1037.2 239.3 1034.5 C248.8 1031.8 259.5 1029.3 267.8 1027.4 C276.1 1025.5 282.1 1023.9 289.2 1023.1 C296.3 1022.3 303.4 1021.7 310.5 1022.7 C317.6 1023.8 326.0 1026.3 331.9 1029.2 C337.8 1032.0 341.4 1036.9 346.1 1039.8 C350.9 1042.8 354.4 1044.3 360.4 1047.0 C366.3 1049.6 374.6 1052.9 381.7 1055.9 C388.8 1058.8 397.9 1062.8 403.1 1064.8 C408.3 1066.7 410.3 1068.8 413.0 1067.6 C415.8 1066.4 417.7 1059.7 419.5 1057.6 C421.2 1055.6 423.1 1054.5 423.7 1055.1 C424.3 1055.7 423.7 1058.5 423.0 1061.2 C422.3 1063.9 419.5 1066.4 419.5 1071.2 C419.4 1075.9 420.6 1082.4 422.7 1089.7 C424.7 1096.9 427.7 1106.3 431.6 1114.6 C435.4 1122.9 439.9 1124.7 445.8 1139.5 C451.7 1154.3 463.6 1181.0 467.2 1203.6 C470.7 1226.1 541.9 1262.9 467.2 1274.8 C392.4 1286.6 93.4 1301.8 18.6 1274.8 C-56.1 1247.8 13.9 1140.4 18.6 1112.8 Z" fill="#b6b6b6" stroke="#787878" stroke-width="1"/>
<g clip-path="url(#c1cell)">
<ellipse cx="436" cy="1200" rx="16" ry="75" fill="#6a6a6a" opacity="0.55" filter="url(#blur4)"/>
<ellipse cx="78" cy="1150" rx="22" ry="40" fill="#808080" opacity="0.5" filter="url(#blur4)"/>
<path d="M226.9 1078.0 C227.5 1074.5 232.6 1069.1 237.7 1066.2 C242.8 1063.2 249.2 1061.2 257.5 1060.2 C265.7 1059.2 277.2 1059.6 287.1 1060.2 C297.0 1060.9 309.1 1062.0 316.7 1064.2 C324.3 1066.3 329.2 1069.6 332.5 1073.1 C335.8 1076.5 338.1 1081.3 336.5 1084.9 C334.8 1088.5 329.9 1093.5 322.6 1094.8 C315.4 1096.1 303.9 1094.1 293.0 1092.8 C282.2 1091.5 267.3 1087.9 257.5 1086.9 C247.6 1085.9 238.9 1088.4 233.8 1086.9 C228.7 1085.4 226.2 1081.5 226.9 1078.0 Z" fill="#929292" stroke="#787878" stroke-width="0.8" filter="url(#blur1)"/>
<path d="M336.5 1102.7 C337.4 1100.1 345.7 1095.8 352.3 1094.8 C358.8 1093.8 368.7 1094.8 375.9 1096.8 C383.2 1098.7 392.7 1103.7 395.7 1106.6 C398.7 1109.6 397.7 1113.2 393.7 1114.5 C389.8 1115.8 379.9 1115.2 372.0 1114.5 C364.1 1113.9 352.3 1112.6 346.3 1110.6 C340.4 1108.6 335.5 1105.3 336.5 1102.7 Z" fill="#969696" stroke="#787878" stroke-width="0.8" filter="url(#blur1)"/>
<path d="M336.5 1069.1 C336.8 1066.0 341.4 1062.5 344.4 1062.2 C347.3 1061.9 352.9 1064.3 354.2 1067.1 C355.5 1069.9 354.2 1076.7 352.3 1079.0 C350.3 1081.3 345.0 1082.6 342.4 1081.0 C339.7 1079.3 336.1 1072.2 336.5 1069.1 Z" fill="#8e8e8e" filter="url(#blur1)"/>
<ellipse cx="295.0" cy="1077.0" rx="7.9" ry="4.9" fill="#cccccc" opacity="0.8" filter="url(#blur1)"/>
<ellipse cx="241.7" cy="1078.0" rx="4.9" ry="2.4" fill="#cccccc" opacity="0.8" filter="url(#blur1)"/>
<ellipse cx="310.8" cy="1082.9" rx="5.9" ry="3.0" fill="#c8c8c8" opacity="0.8" filter="url(#blur1)"/>
<ellipse cx="356.2" cy="1104.7" rx="5.9" ry="2.4" fill="#c8c8c8" opacity="0.8" filter="url(#blur1)"/>
<line x1="249.6" y1="1063.2" x2="251.9" y2="1079.0" stroke="#b4b4b4" stroke-width="0.9"/>
<line x1="253.9" y1="1063.2" x2="256.3" y2="1079.0" stroke="#b4b4b4" stroke-width="0.9"/>
<line x1="258.3" y1="1063.2" x2="260.6" y2="1079.0" stroke="#b4b4b4" stroke-width="0.9"/>
<line x1="262.6" y1="1063.2" x2="265.0" y2="1079.0" stroke="#b4b4b4" stroke-width="0.9"/>
<line x1="266.9" y1="1063.2" x2="269.3" y2="1079.0" stroke="#b4b4b4" stroke-width="0.9"/>
<line x1="271.3" y1="1063.2" x2="273.7" y2="1079.0" stroke="#b4b4b4" stroke-width="0.9"/>
<line x1="275.6" y1="1063.2" x2="278.0" y2="1079.0" stroke="#b4b4b4" stroke-width="0.9"/>
<line x1="280.0" y1="1063.2" x2="282.3" y2="1079.0" stroke="#b4b4b4" stroke-width="0.9"/>
<line x1="284.3" y1="1063.2" x2="286.7" y2="1079.0" stroke="#b4b4b4" stroke-width="0.9"/>
<line x1="368.1" y1="1098.7" x2="374.0" y2="1112.6" stroke="#b4b4b4" stroke-width="0.9"/>
<line x1="372.8" y1="1098.7" x2="378.7" y2="1112.6" stroke="#b4b4b4" stroke-width="0.9"/>
<line x1="377.5" y1="1098.7" x2="383.5" y2="1112.6" stroke="#b4b4b4" stroke-width="0.9"/>
<line x1="382.3" y1="1098.7" x2="388.2" y2="1112.6" stroke="#b4b4b4" stroke-width="0.9"/>
<line x1="387.0" y1="1098.7" x2="392.9" y2="1112.6" stroke="#b4b4b4" stroke-width="0.9"/>
<circle cx="95.5" cy="1123.4" r="7.9" fill="#b4b4b4" stroke="#848484" stroke-width="2.6" filter="url(#blur1)"/>
<circle cx="130.1" cy="1126.4" r="7.5" fill="#b4b4b4" stroke="#848484" stroke-width="2.6" filter="url(#blur1)"/>
<circle cx="81.7" cy="1142.2" r="14.8" fill="#b4b4b4" stroke="#848484" stroke-width="2.6" filter="url(#blur1)"/>
<ellipse cx="186.4" cy="1057.3" rx="3.9" ry="2.8" fill="#2a2a2a" opacity="1" filter="url(#blur1)"/>
<ellipse cx="182.8" cy="1060.8" rx="2.8" ry="2.2" fill="#333" opacity="1" filter="url(#blur1)"/>
<ellipse cx="80.7" cy="1162.9" rx="2.8" ry="2.2" fill="#111" opacity="1" filter="url(#blur1)"/>
<ellipse cx="152.8" cy="1084.9" rx="9.9" ry="2.0" fill="#888" opacity="0.8" filter="url(#blur1)"/>
<ellipse cx="170.6" cy="1086.9" rx="11.8" ry="1.6" fill="#8a8a8a" opacity="0.8" filter="url(#blur1)"/>
<rect x="73" y="1013" width="365" height="246" filter="url(#nzFine)" opacity="0.28"/>
</g>
<path d="M54.2 1274.8 C55.4 1264.1 58.5 1242.7 61.4 1232.1 C64.2 1221.4 68.4 1217.8 71.3 1210.7 C74.3 1203.6 76.1 1195.9 79.2 1189.3 C82.2 1182.8 84.5 1178.1 89.8 1171.5 C95.2 1165.0 104.1 1156.4 111.2 1150.2 C118.3 1144.0 124.8 1139.5 132.5 1134.2 C140.3 1128.8 148.0 1123.2 157.5 1118.1 C167.0 1113.1 178.2 1107.5 189.5 1103.9 C200.8 1100.3 213.2 1098.3 225.1 1096.8 C237.0 1095.3 250.0 1094.7 260.7 1095.0 C271.4 1095.3 279.1 1096.2 289.2 1098.6 C299.3 1100.9 311.1 1104.8 321.2 1109.2 C331.3 1113.7 340.2 1119.0 349.7 1125.3 C359.2 1131.5 369.9 1139.5 378.2 1146.6 C386.5 1153.7 393.9 1160.3 399.5 1168.0 C405.2 1175.7 409.0 1184.0 412.0 1192.9 C414.9 1201.8 416.0 1210.1 417.3 1221.4 C418.7 1232.6 419.7 1248.1 420.2 1260.5 C420.6 1273.0 481.2 1290.2 420.2 1296.1 C359.2 1302.1 115.2 1299.7 54.2 1296.1 C-6.7 1292.6 53.1 1285.4 54.2 1274.8 Z" fill="#c6c6c6" stroke="#444" stroke-width="3.8" filter="url(#blur1)"/>
<g clip-path="url(#c1nuc)">
<ellipse cx="250" cy="1180" rx="110" ry="55" fill="#dadada" opacity="0.6" filter="url(#blur12)"/>
<rect x="73" y="1013" width="365" height="246" filter="url(#nzLight)" opacity="0.5"/>
<rect x="73" y="1013" width="365" height="246" filter="url(#nzDark)" opacity="0.72"/>
<rect x="73" y="1013" width="365" height="246" filter="url(#nzFine)" opacity="0.18"/>
</g>
<path d="M54.2 1274.8 C55.4 1264.1 58.5 1242.7 61.4 1232.1 C64.2 1221.4 68.4 1217.8 71.3 1210.7 C74.3 1203.6 76.1 1195.9 79.2 1189.3 C82.2 1182.8 84.5 1178.1 89.8 1171.5 C95.2 1165.0 104.1 1156.4 111.2 1150.2 C118.3 1144.0 124.8 1139.5 132.5 1134.2 C140.3 1128.8 148.0 1123.2 157.5 1118.1 C167.0 1113.1 178.2 1107.5 189.5 1103.9 C200.8 1100.3 213.2 1098.3 225.1 1096.8 C237.0 1095.3 250.0 1094.7 260.7 1095.0 C271.4 1095.3 279.1 1096.2 289.2 1098.6 C299.3 1100.9 311.1 1104.8 321.2 1109.2 C331.3 1113.7 340.2 1119.0 349.7 1125.3 C359.2 1131.5 369.9 1139.5 378.2 1146.6 C386.5 1153.7 393.9 1160.3 399.5 1168.0 C405.2 1175.7 409.0 1184.0 412.0 1192.9 C414.9 1201.8 416.0 1210.1 417.3 1221.4 C418.7 1232.6 419.7 1248.1 420.2 1260.5 C420.6 1273.0 481.2 1290.2 420.2 1296.1 C359.2 1302.1 115.2 1299.7 54.2 1296.1 C-6.7 1292.6 53.1 1285.4 54.2 1274.8 Z" fill="none" stroke="#454545" stroke-width="2.2" opacity="0.75" filter="url(#blur1)"/>
<ellipse cx="139.0" cy="1144.2" rx="9.5" ry="7.1" fill="#3c3c3c" opacity="0.85" filter="url(#blur2)"/>
<ellipse cx="413.5" cy="1237.0" rx="3.9" ry="14.8" fill="#1c1c1c" opacity="0.9" filter="url(#blur2)"/>
<ellipse cx="403.6" cy="1177.7" rx="3.2" ry="13.8" fill="#2c2c2c" opacity="0.8" filter="url(#blur2)"/>
<ellipse cx="372.0" cy="1202.4" rx="6.3" ry="4.3" fill="#505050" opacity="0.8" filter="url(#blur2)"/>
<ellipse cx="74.8" cy="1253.7" rx="4.3" ry="8.9" fill="#111" opacity="0.9" filter="url(#blur2)"/>
<ellipse cx="93.6" cy="1177.7" rx="5.5" ry="3.9" fill="#444" opacity="0.7" filter="url(#blur2)"/>
<ellipse cx="89.6" cy="1239.9" rx="4.9" ry="3.0" fill="#444" opacity="0.7" filter="url(#blur2)"/>
<ellipse cx="119.2" cy="1237.0" rx="3.9" ry="3.0" fill="#555" opacity="0.7" filter="url(#blur2)"/>
<ellipse cx="113.3" cy="1156.0" rx="5.9" ry="2.4" fill="#444" opacity="0.7" filter="url(#blur2)"/>
<ellipse cx="83.7" cy="1213.3" rx="2.8" ry="11.8" fill="#3a3a3a" opacity="0.7" filter="url(#blur2)"/>
<path d="M194.3 1072.5 H209.3 V1066.6 L226.3 1074.1 L209.3 1081.6 V1075.7 H194.3 Z" fill="#111"/>
<path d="M238.500 1256.200 V1259 M238.500 1257.600 H260 M260 1256.200 V1259" stroke="#c41f1f" stroke-width="0.9" fill="none"/>
<text x="262" y="1259.300" font-size="5.500" font-weight="bold" textLength="19" lengthAdjust="spacingAndGlyphs" style="fill:#c41f1f">500 nm</text>
</g>
<clipPath id="c2cell"><path d="M64.9 1285.4 C107.6 1243.3 276.1 1283.1 321.2 1285.4 C366.3 1287.8 330.1 1296.4 335.4 1299.7 C340.8 1302.9 347.9 1302.1 353.2 1305.0 C358.6 1308.0 363.3 1313.0 367.5 1317.5 C371.6 1321.9 375.8 1326.4 378.2 1331.7 C380.5 1337.1 380.2 1343.6 381.7 1349.5 C383.2 1355.5 384.7 1362.6 387.1 1367.3 C389.4 1372.1 391.5 1374.4 396.0 1378.0 C400.4 1381.6 407.8 1385.1 413.8 1388.7 C419.7 1392.2 426.2 1396.4 431.6 1399.4 C436.9 1402.3 443.4 1399.8 445.8 1406.5 C448.2 1413.1 448.2 1432.9 445.8 1439.2 C443.4 1445.5 437.6 1441.2 431.2 1444.2 C424.8 1447.2 416.5 1452.5 407.4 1457.0 C398.2 1461.5 385.3 1466.3 376.0 1471.3 C366.8 1476.2 359.1 1481.1 351.8 1486.9 C344.6 1492.7 338.5 1500.9 332.6 1506.1 C326.7 1511.4 322.4 1515.5 316.6 1518.2 C310.8 1521.0 301.8 1521.2 297.7 1522.9 C293.6 1524.5 293.1 1525.7 292.0 1528.2 C291.0 1530.8 329.2 1536.5 291.3 1538.2 C253.5 1539.8 102.6 1580.3 64.9 1538.2 C27.2 1496.1 22.2 1327.6 64.9 1285.4 Z"/></clipPath>
<clipPath id="c2nuc"><path d="M64.9 1402.9 C66.3 1397.3 69.5 1397.3 73.1 1392.2 C76.7 1387.2 81.7 1378.3 86.3 1372.7 C90.8 1367.0 94.6 1362.3 100.5 1358.4 C106.4 1354.6 114.2 1351.9 121.9 1349.5 C129.6 1347.1 137.9 1345.4 146.8 1344.2 C155.7 1343.0 165.8 1342.1 175.3 1342.4 C184.8 1342.7 195.4 1343.9 203.7 1346.0 C212.0 1348.0 218.0 1351.0 225.1 1354.9 C232.2 1358.7 239.3 1363.5 246.5 1369.1 C253.6 1374.7 261.3 1381.9 267.8 1388.7 C274.3 1395.5 281.5 1404.1 285.6 1410.0 C289.8 1416.0 292.1 1418.3 292.7 1424.3 C293.3 1430.2 291.0 1439.1 289.2 1445.6 C287.4 1452.2 285.6 1456.9 282.1 1463.4 C278.5 1470.0 272.6 1478.3 267.8 1484.8 C263.1 1491.3 259.5 1497.2 253.6 1502.6 C247.6 1507.9 239.3 1513.3 232.2 1516.8 C225.1 1520.4 219.2 1523.3 210.9 1523.9 C202.6 1524.5 191.3 1522.2 182.4 1520.4 C173.5 1518.6 166.4 1513.3 157.5 1513.3 C148.6 1513.3 137.9 1520.4 129.0 1520.4 C120.1 1520.4 110.6 1518.6 104.1 1513.3 C97.5 1507.9 93.1 1496.7 89.8 1488.3 C86.6 1480.0 85.1 1471.7 84.5 1463.4 C83.9 1455.1 87.8 1444.4 86.3 1438.5 C84.8 1432.6 79.2 1429.9 75.6 1427.8 C72.0 1425.8 66.7 1430.2 64.9 1426.1 C63.1 1421.9 63.6 1408.5 64.9 1402.9 Z"/></clipPath>
<g clip-path="url(#clipf2)">
<rect x="73" y="1290" width="365" height="240" fill="url(#vig2)"/>
<rect x="73" y="1290" width="365" height="240" filter="url(#nzCloud)" opacity="0.06"/>
<path d="M374.6 1324.6 C377.6 1324.9 386.5 1323.7 392.4 1326.4 C398.3 1329.1 404.9 1335.0 410.2 1340.6 C415.5 1346.3 419.8 1353.4 424.4 1360.2 C429.1 1367.0 435.7 1378.0 438.0 1381.6" fill="none" stroke="#8c8c8c" stroke-width="2.6" filter="url(#blur1)"/>
<path d="M381.7 1342.4 C384.1 1344.2 391.2 1349.5 396.0 1353.1 C400.7 1356.6 405.7 1361.1 410.2 1363.8 C414.6 1366.4 420.6 1368.2 422.7 1369.1" fill="none" stroke="#909090" stroke-width="3" filter="url(#blur1)"/>
<path d="M390.6 1372.7 C392.1 1371.8 396.3 1368.9 399.5 1367.3 C402.8 1365.7 408.4 1363.8 410.2 1363.0" fill="none" stroke="#909090" stroke-width="3" filter="url(#blur1)"/>
<circle cx="382.4" cy="1313.2" r="2.600" fill="#8a8a8a"/>
<path d="M64.9 1285.4 C107.6 1243.3 276.1 1283.1 321.2 1285.4 C366.3 1287.8 330.1 1296.4 335.4 1299.7 C340.8 1302.9 347.9 1302.1 353.2 1305.0 C358.6 1308.0 363.3 1313.0 367.5 1317.5 C371.6 1321.9 375.8 1326.4 378.2 1331.7 C380.5 1337.1 380.2 1343.6 381.7 1349.5 C383.2 1355.5 384.7 1362.6 387.1 1367.3 C389.4 1372.1 391.5 1374.4 396.0 1378.0 C400.4 1381.6 407.8 1385.1 413.8 1388.7 C419.7 1392.2 426.2 1396.4 431.6 1399.4 C436.9 1402.3 443.4 1399.8 445.8 1406.5 C448.2 1413.1 448.2 1432.9 445.8 1439.2 C443.4 1445.5 437.6 1441.2 431.2 1444.2 C424.8 1447.2 416.5 1452.5 407.4 1457.0 C398.2 1461.5 385.3 1466.3 376.0 1471.3 C366.8 1476.2 359.1 1481.1 351.8 1486.9 C344.6 1492.7 338.5 1500.9 332.6 1506.1 C326.7 1511.4 322.4 1515.5 316.6 1518.2 C310.8 1521.0 301.8 1521.2 297.7 1522.9 C293.6 1524.5 293.1 1525.7 292.0 1528.2 C291.0 1530.8 329.2 1536.5 291.3 1538.2 C253.5 1539.8 102.6 1580.3 64.9 1538.2 C27.2 1496.1 22.2 1327.6 64.9 1285.4 Z" fill="#9a9a9a" stroke="#707070" stroke-width="1"/>
<ellipse cx="387.1" cy="1334.6" rx="9.3" ry="10.0" fill="#f0f0f0" stroke="#8a8a8a" stroke-width="1.4" filter="url(#blur1)"/>
<path d="M64.9 1283.7 C75.6 1279.2 118.6 1282.2 129.0 1283.7 C139.4 1285.2 130.2 1290.1 127.2 1292.6 C124.2 1295.0 118.0 1296.7 111.2 1298.3 C104.4 1299.8 92.6 1300.3 86.3 1301.8 C79.9 1303.4 76.7 1306.1 73.1 1307.5 C69.5 1308.9 66.3 1314.3 64.9 1310.4 C63.6 1306.4 54.2 1288.1 64.9 1283.7 Z" fill="#d2d2d2" filter="url(#blur1)"/>
<ellipse cx="79.2" cy="1292.6" rx="21.4" ry="8.9" fill="#9a9a9a" opacity="0.7" filter="url(#blur4)"/>
<ellipse cx="107.6" cy="1312.1" rx="27.1" ry="8.9" fill="#888888" filter="url(#blur1)"/>
<ellipse cx="107.6" cy="1312.5" rx="23.5" ry="6.1" fill="#e2e2e2" filter="url(#blur1)"/>
<path d="M334.0 1510.4 C335.2 1508.4 342.4 1505.8 346.8 1502.6 C351.2 1499.4 356.3 1494.5 360.4 1491.2 C364.4 1487.9 368.5 1483.7 371.0 1482.6 C373.6 1481.6 375.8 1482.5 375.7 1484.8 C375.6 1487.0 373.8 1492.5 370.3 1496.2 C366.8 1499.9 359.8 1503.8 354.7 1506.9 C349.6 1509.9 343.2 1514.1 339.7 1514.7 C336.3 1515.3 332.8 1512.4 334.0 1510.4 Z" fill="#efefef" stroke="#8a8a8a" stroke-width="2.2" filter="url(#blur1)"/>
<path d="M324.8 1520.4 C327.7 1520.2 336.3 1520.3 342.6 1519.3 C348.8 1518.4 358.9 1515.5 362.1 1514.7" fill="none" stroke="#8a8a8a" stroke-width="2.8" filter="url(#blur1)"/>
<g clip-path="url(#c2cell)">
<ellipse cx="299.9" cy="1306.8" rx="18.5" ry="17.8" fill="#6e6e6e" opacity="1" filter="url(#blur1)"/>
<ellipse cx="344.3" cy="1317.5" rx="13.5" ry="12.1" fill="#686868" opacity="1" filter="url(#blur1)"/>
<ellipse cx="312.3" cy="1340.6" rx="15.0" ry="14.2" fill="#787878" opacity="1" filter="url(#blur1)"/>
<ellipse cx="363.9" cy="1368.4" rx="13.5" ry="12.5" fill="#5a5a5a" opacity="1" filter="url(#blur1)"/>
<ellipse cx="392.4" cy="1397.6" rx="10.7" ry="10.7" fill="#6c6c6c" opacity="1" filter="url(#blur1)"/>
<ellipse cx="262.5" cy="1359.1" rx="4.3" ry="4.3" fill="#5a5a5a" opacity="1" filter="url(#blur1)"/>
<ellipse cx="274.9" cy="1372.7" rx="3.9" ry="3.9" fill="#666" opacity="1" filter="url(#blur1)"/>
<ellipse cx="225.1" cy="1292.6" rx="10.7" ry="4.3" fill="#777" opacity="1" filter="url(#blur1)"/>
<ellipse cx="312.3" cy="1340.6" rx="9.3" ry="8.5" fill="#8c8c8c" opacity="0.9" filter="url(#blur2)"/>
<ellipse cx="260.7" cy="1308.6" rx="12.5" ry="10.0" fill="#b8b8b8" opacity="0.85" stroke="#7e7e7e" stroke-width="0.8" filter="url(#blur1)"/>
<ellipse cx="342.6" cy="1417.2" rx="14.2" ry="12.1" fill="#a8a8a8" opacity="0.85" stroke="#7e7e7e" stroke-width="0.8" filter="url(#blur1)"/>
<ellipse cx="301.6" cy="1459.9" rx="10.7" ry="8.9" fill="#b4b4b4" opacity="0.85" stroke="#7e7e7e" stroke-width="0.8" filter="url(#blur1)"/>
<ellipse cx="305.2" cy="1481.2" rx="14.2" ry="10.7" fill="#acacac" opacity="0.85" stroke="#7e7e7e" stroke-width="0.8" filter="url(#blur1)"/>
<ellipse cx="282.1" cy="1497.2" rx="8.9" ry="7.1" fill="#a8a8a8" opacity="0.85" stroke="#7e7e7e" stroke-width="0.8" filter="url(#blur1)"/>
<ellipse cx="339.7" cy="1394.0" rx="8.5" ry="6.4" fill="#a6a6a6" opacity="0.85" stroke="#7e7e7e" stroke-width="0.8" filter="url(#blur1)"/>
<ellipse cx="363.9" cy="1342.4" rx="5.7" ry="4.6" fill="#ababab" opacity="0.85" stroke="#7e7e7e" stroke-width="0.8" filter="url(#blur1)"/>
<ellipse cx="428.0" cy="1427.8" rx="10.7" ry="24.9" fill="#7c7c7c" opacity="0.6" filter="url(#blur4)"/>
<rect x="73" y="1290" width="365" height="240" filter="url(#nzFine)" opacity="0.28"/>
</g>
<ellipse cx="290.2" cy="1378.0" rx="13.2" ry="12.1" fill="#555"/>
<ellipse cx="290.2" cy="1378.0" rx="11.0" ry="10.0" fill="#a0a0a0" stroke="#f4f4f4" stroke-width="2.2"/>
<path d="M64.9 1402.9 C66.3 1397.3 69.5 1397.3 73.1 1392.2 C76.7 1387.2 81.7 1378.3 86.3 1372.7 C90.8 1367.0 94.6 1362.3 100.5 1358.4 C106.4 1354.6 114.2 1351.9 121.9 1349.5 C129.6 1347.1 137.9 1345.4 146.8 1344.2 C155.7 1343.0 165.8 1342.1 175.3 1342.4 C184.8 1342.7 195.4 1343.9 203.7 1346.0 C212.0 1348.0 218.0 1351.0 225.1 1354.9 C232.2 1358.7 239.3 1363.5 246.5 1369.1 C253.6 1374.7 261.3 1381.9 267.8 1388.7 C274.3 1395.5 281.5 1404.1 285.6 1410.0 C289.8 1416.0 292.1 1418.3 292.7 1424.3 C293.3 1430.2 291.0 1439.1 289.2 1445.6 C287.4 1452.2 285.6 1456.9 282.1 1463.4 C278.5 1470.0 272.6 1478.3 267.8 1484.8 C263.1 1491.3 259.5 1497.2 253.6 1502.6 C247.6 1507.9 239.3 1513.3 232.2 1516.8 C225.1 1520.4 219.2 1523.3 210.9 1523.9 C202.6 1524.5 191.3 1522.2 182.4 1520.4 C173.5 1518.6 166.4 1513.3 157.5 1513.3 C148.6 1513.3 137.9 1520.4 129.0 1520.4 C120.1 1520.4 110.6 1518.6 104.1 1513.3 C97.5 1507.9 93.1 1496.7 89.8 1488.3 C86.6 1480.0 85.1 1471.7 84.5 1463.4 C83.9 1455.1 87.8 1444.4 86.3 1438.5 C84.8 1432.6 79.2 1429.9 75.6 1427.8 C72.0 1425.8 66.7 1430.2 64.9 1426.1 C63.1 1421.9 63.6 1408.5 64.9 1402.9 Z" fill="#acacac" stroke="#3c3c3c" stroke-width="3.6" filter="url(#blur1)"/>
<g clip-path="url(#c2nuc)">
<ellipse cx="210" cy="1425" rx="70" ry="50" fill="#c4c4c4" opacity="0.5" filter="url(#blur12)"/>
<rect x="73" y="1290" width="365" height="240" filter="url(#nzLight)" opacity="0.42"/>
<rect x="73" y="1290" width="365" height="240" filter="url(#nzDark)" opacity="0.68"/>
<rect x="73" y="1290" width="365" height="240" filter="url(#nzFine)" opacity="0.2"/>
</g>
<path d="M64.9 1402.9 C66.3 1397.3 69.5 1397.3 73.1 1392.2 C76.7 1387.2 81.7 1378.3 86.3 1372.7 C90.8 1367.0 94.6 1362.3 100.5 1358.4 C106.4 1354.6 114.2 1351.9 121.9 1349.5 C129.6 1347.1 137.9 1345.4 146.8 1344.2 C155.7 1343.0 165.8 1342.1 175.3 1342.4 C184.8 1342.7 195.4 1343.9 203.7 1346.0 C212.0 1348.0 218.0 1351.0 225.1 1354.9 C232.2 1358.7 239.3 1363.5 246.5 1369.1 C253.6 1374.7 261.3 1381.9 267.8 1388.7 C274.3 1395.5 281.5 1404.1 285.6 1410.0 C289.8 1416.0 292.1 1418.3 292.7 1424.3 C293.3 1430.2 291.0 1439.1 289.2 1445.6 C287.4 1452.2 285.6 1456.9 282.1 1463.4 C278.5 1470.0 272.6 1478.3 267.8 1484.8 C263.1 1491.3 259.5 1497.2 253.6 1502.6 C247.6 1507.9 239.3 1513.3 232.2 1516.8 C225.1 1520.4 219.2 1523.3 210.9 1523.9 C202.6 1524.5 191.3 1522.2 182.4 1520.4 C173.5 1518.6 166.4 1513.3 157.5 1513.3 C148.6 1513.3 137.9 1520.4 129.0 1520.4 C120.1 1520.4 110.6 1518.6 104.1 1513.3 C97.5 1507.9 93.1 1496.7 89.8 1488.3 C86.6 1480.0 85.1 1471.7 84.5 1463.4 C83.9 1455.1 87.8 1444.4 86.3 1438.5 C84.8 1432.6 79.2 1429.9 75.6 1427.8 C72.0 1425.8 66.7 1430.2 64.9 1426.1 C63.1 1421.9 63.6 1408.5 64.9 1402.9 Z" fill="none" stroke="#333" stroke-width="2.4" opacity="0.8" filter="url(#blur1)"/>
<ellipse cx="111.2" cy="1483.0" rx="16.4" ry="10.7" fill="#1c1c1c" opacity="0.92" filter="url(#blur2)"/>
<ellipse cx="235.8" cy="1504.4" rx="15.0" ry="14.2" fill="#262626" opacity="0.92" filter="url(#blur2)"/>
<ellipse cx="88.8" cy="1381.6" rx="5.0" ry="14.2" fill="#222" opacity="0.85" filter="url(#blur2)"/>
<ellipse cx="88.1" cy="1463.4" rx="4.3" ry="21.4" fill="#1e1e1e" opacity="0.85" filter="url(#blur2)"/>
<ellipse cx="153.9" cy="1371.6" rx="3.2" ry="2.1" fill="#111" opacity="1" filter="url(#blur2)"/>
<ellipse cx="285.6" cy="1449.2" rx="3.6" ry="10.7" fill="#3a3a3a" opacity="0.8" filter="url(#blur2)"/>
<ellipse cx="146.8" cy="1517.5" rx="14.2" ry="3.6" fill="#2a2a2a" opacity="0.85" filter="url(#blur2)"/>
<ellipse cx="397.0" cy="1420.0" rx="4.3" ry="3.2" fill="#2c2c2c" opacity="0.9" filter="url(#blur2)"/>
<ellipse cx="385.3" cy="1448.5" rx="4.3" ry="3.2" fill="#2c2c2c" opacity="0.9" filter="url(#blur2)"/>
<ellipse cx="74.9" cy="1435.0" rx="1.8" ry="2.5" fill="#111" opacity="1" filter="url(#blur2)"/>
<ellipse cx="93.4" cy="1499.0" rx="5.0" ry="14.2" fill="#2a2a2a" opacity="0.85" filter="url(#blur2)"/>
<ellipse cx="260.7" cy="1488.3" rx="3.6" ry="10.7" fill="#3a3a3a" opacity="0.7" filter="url(#blur2)"/>
<path d="M278.2 1339.1 L296.4 1343.9 L278.2 1348.2 Z" fill="#e8313a"/>
<path d="M328.6 1364.8 L351.3 1369.1 L328.6 1373.7 Z" fill="#e8313a"/>
<path d="M306.8 1404.7 H318.0 V1400.9 L329.0 1405.9 L318.0 1410.9 V1407.1 H306.8 Z" fill="#111"/>
<path d="M271.7 1474.8 H282.4 V1471.0 L293.4 1476.0 L282.4 1481.0 V1477.2 H271.7 Z" fill="#111"/>
<path d="M236.500 1524.600 V1528 M236.500 1526.300 H258.500 M258.500 1524.600 V1528" stroke="#c41f1f" stroke-width="0.9" fill="none"/>
<text x="261" y="1528.300" font-size="5.800" font-weight="bold" textLength="20" lengthAdjust="spacingAndGlyphs" style="fill:#c41f1f">500 nm</text>
</g>
<path d="M88.8 1273.5 H101.0 V1269.1999999999998 L110.5 1274.6 L101.0 1280.0 V1275.6999999999998 H88.8 Z" fill="#000"/>
<text x="114" y="1282.3" font-size="21.5" class="b cr" textLength="122" lengthAdjust="spacingAndGlyphs">Mitochondria</text>
<path d="M263.500 1270 L286.500 1274.600 L263.500 1279.600 Z" fill="#e8313a"/>
<text x="292.5" y="1282.3" font-size="21.5" class="b cr" textLength="129" lengthAdjust="spacingAndGlyphs">Lipid droplets</text>
<text x="100" y="1567" font-size="26" class="b cr" textLength="186" lengthAdjust="spacingAndGlyphs">U937 sh-VLCAD</text>
</g>
<g id="panel-g">
<text x="474" y="1004" font-size="47" class="lab" textLength="42" lengthAdjust="spacingAndGlyphs">g)</text>
<rect x="625.2" y="1096.3" width="21.1" height="260.2" fill="#e59735" />
<rect x="656.0" y="1096.3" width="21.0" height="260.2" fill="#df552f" />
<rect x="707.8" y="1170.8" width="20.5" height="185.7" fill="#e59735" />
<line x1="718.0" y1="1162.8" x2="718.0" y2="1172.3" stroke="#000" stroke-width="3.3" stroke-linecap="round"/>
<line x1="715.0" y1="1162.8" x2="721.0" y2="1162.8" stroke="#000" stroke-width="3" stroke-linecap="round"/>
<rect x="738.6" y="1265.1" width="20.6" height="91.4" fill="#df552f" />
<line x1="748.9" y1="1243.4" x2="748.9" y2="1266.6" stroke="#000" stroke-width="3.3" stroke-linecap="round"/>
<line x1="745.9" y1="1243.4" x2="751.9" y2="1243.4" stroke="#000" stroke-width="3" stroke-linecap="round"/>
<rect x="790.0" y="1143.4" width="20.7" height="213.1" fill="#e59735" />
<line x1="800.4" y1="1140.9" x2="800.4" y2="1144.9" stroke="#000" stroke-width="3.3" stroke-linecap="round"/>
<line x1="797.4" y1="1140.9" x2="803.4" y2="1140.9" stroke="#000" stroke-width="3" stroke-linecap="round"/>
<rect x="820.8" y="1182.7" width="20.7" height="173.8" fill="#df552f" />
<line x1="831.1" y1="1154.2" x2="831.1" y2="1184.2" stroke="#000" stroke-width="3.3" stroke-linecap="round"/>
<line x1="828.1" y1="1154.2" x2="834.1" y2="1154.2" stroke="#000" stroke-width="3" stroke-linecap="round"/>
<rect x="872.1" y="1302.1" width="20.8" height="54.4" fill="#e59735" />
<line x1="882.5" y1="1295.0" x2="882.5" y2="1303.6" stroke="#000" stroke-width="3.3" stroke-linecap="round"/>
<line x1="879.5" y1="1295.0" x2="885.5" y2="1295.0" stroke="#000" stroke-width="3" stroke-linecap="round"/>
<rect x="903.0" y="1328.4" width="20.7" height="28.1" fill="#df552f" />
<line x1="913.4" y1="1316.7" x2="913.4" y2="1329.9" stroke="#000" stroke-width="3.3" stroke-linecap="round"/>
<line x1="910.4" y1="1316.7" x2="916.4" y2="1316.7" stroke="#000" stroke-width="3" stroke-linecap="round"/>
<line x1="615.7" y1="1041.7" x2="615.7" y2="1358.1" stroke="#000" stroke-width="3.3" />
<line x1="602.2" y1="1356.5" x2="934" y2="1356.5" stroke="#000" stroke-width="3.3" />
<line x1="602.2" y1="1356.5" x2="615.7" y2="1356.5" stroke="#000" stroke-width="3.2" />
<text x="597.2" y="1367.3" font-size="29.3" text-anchor="end" fill="#000" style="fill:#000">0</text>
<line x1="602.2" y1="1304.3" x2="615.7" y2="1304.3" stroke="#000" stroke-width="3.2" />
<text x="597.2" y="1315.1" font-size="29.3" text-anchor="end" fill="#000" style="fill:#000">20</text>
<line x1="602.2" y1="1252.1" x2="615.7" y2="1252.1" stroke="#000" stroke-width="3.2" />
<text x="597.2" y="1262.9" font-size="29.3" text-anchor="end" fill="#000" style="fill:#000">40</text>
<line x1="602.2" y1="1199.9" x2="615.7" y2="1199.9" stroke="#000" stroke-width="3.2" />
<text x="597.2" y="1210.7" font-size="29.3" text-anchor="end" fill="#000" style="fill:#000">60</text>
<line x1="602.2" y1="1147.7" x2="615.7" y2="1147.7" stroke="#000" stroke-width="3.2" />
<text x="597.2" y="1158.5" font-size="29.3" text-anchor="end" fill="#000" style="fill:#000">80</text>
<line x1="602.2" y1="1095.5" x2="615.7" y2="1095.5" stroke="#000" stroke-width="3.2" />
<text x="597.2" y="1106.3" font-size="29.3" text-anchor="end" fill="#000" style="fill:#000">100</text>
<line x1="602.2" y1="1043.3" x2="615.7" y2="1043.3" stroke="#000" stroke-width="3.2" />
<text x="597.2" y="1054.1" font-size="29.3" text-anchor="end" fill="#000" style="fill:#000">120</text>
<line x1="651" y1="1356.5" x2="651" y2="1369.8" stroke="#000" stroke-width="3.2" />
<text x="0" y="0" font-size="30.5" textLength="98" lengthAdjust="spacingAndGlyphs" text-anchor="end" fill="#000" style="fill:#000" transform="translate(658.0 1384.0) rotate(-45)">Control</text>
<line x1="733.2" y1="1356.5" x2="733.2" y2="1369.8" stroke="#000" stroke-width="3.2" />
<text x="0" y="0" font-size="30.5" textLength="57.5" lengthAdjust="spacingAndGlyphs" text-anchor="end" fill="#000" style="fill:#000" transform="translate(740.2 1384.0) rotate(-45)">ATO</text>
<line x1="815.4" y1="1356.5" x2="815.4" y2="1369.8" stroke="#000" stroke-width="3.2" />
<text x="0" y="0" font-size="30.5" textLength="59" lengthAdjust="spacingAndGlyphs" text-anchor="end" fill="#000" style="fill:#000" transform="translate(822.4 1384.0) rotate(-45)">ART</text>
<line x1="897.6" y1="1356.5" x2="897.6" y2="1369.8" stroke="#000" stroke-width="3.2" />
<text x="0" y="0" font-size="30.5" textLength="135" lengthAdjust="spacingAndGlyphs" text-anchor="end" fill="#000" style="fill:#000" transform="translate(904.6 1384.0) rotate(-45)">ATO+ART</text>
<path d="M718.1 1146.5 V1116.6 H748.9 V1266" fill="none" stroke="#000" stroke-width="3.2" stroke-linecap="round"/>
<text x="733.6" y="1115.8" font-size="41" class="b" textLength="46.5" lengthAdjust="spacingAndGlyphs" text-anchor="middle" fill="#000" style="fill:#000">***</text>
<text x="0" y="0" font-size="35.5" textLength="245" lengthAdjust="spacingAndGlyphs" fill="#000" style="fill:#000" transform="translate(533.5 1327) rotate(-90)">% of Viable cells</text>
<rect x="605" y="1508.1" width="33.6" height="22.3" fill="#e59735" />
<rect x="605" y="1548.2" width="33.6" height="22.3" fill="#df552f" />
<text x="657" y="1530.4" font-size="30.3" textLength="209.5" lengthAdjust="spacingAndGlyphs" fill="#000" style="fill:#000">U937 shCNTRL</text>
<text x="657" y="1570.5" font-size="30.3" textLength="209.5" lengthAdjust="spacingAndGlyphs" fill="#000" style="fill:#000">U937 shVLCAD</text>
</g>
<g id="panel-h">
<text x="973" y="1017" font-size="47" class="lab" textLength="42" lengthAdjust="spacingAndGlyphs">h)</text>
<text x="1132" y="1041.2" font-size="32.5" class="cr" textLength="77.5" lengthAdjust="spacingAndGlyphs" fill="#111" style="fill:#111;stroke:#111">U937</text>
<rect x="1031" y="1046.200" width="329.200" height="413.300" fill="#fff" stroke="#808080" stroke-width="0.9"/>
<path d="M1031.0 1255.9 C1034.0 1255.9 1048.9 1256.3 1052.9 1255.9 C1056.9 1255.6 1059.1 1255.1 1060.9 1253.6 C1062.8 1252.1 1065.5 1248.3 1066.6 1244.7 C1067.8 1241.2 1069.1 1234.0 1069.8 1226.9 C1070.6 1219.8 1071.7 1201.5 1072.5 1191.3 C1073.3 1181.1 1075.1 1161.1 1076.1 1150.4 C1077.0 1139.7 1078.7 1119.3 1079.6 1111.2 C1080.6 1103.1 1082.4 1094.1 1083.2 1089.8 C1084.0 1085.6 1084.8 1079.3 1085.3 1079.5 C1085.9 1079.8 1086.6 1086.5 1087.3 1091.6 C1088.0 1096.8 1089.6 1111.9 1090.3 1118.3 C1091.1 1124.7 1092.3 1132.6 1093.0 1139.7 C1093.7 1146.8 1094.8 1163.7 1095.7 1171.7 C1096.5 1179.8 1098.2 1193.8 1099.2 1200.2 C1100.3 1206.6 1102.6 1215.1 1103.7 1219.8 C1104.7 1224.6 1106.0 1232.5 1107.2 1235.8 C1108.4 1239.2 1110.9 1243.0 1112.6 1244.7 C1114.2 1246.4 1117.1 1248.2 1119.7 1248.6 C1122.3 1249.1 1129.1 1247.6 1132.2 1247.9 C1135.2 1248.2 1140.2 1250.4 1142.8 1251.0 C1145.4 1251.5 1149.1 1252.1 1151.7 1252.2 C1154.4 1252.3 1159.1 1251.4 1162.4 1251.5 C1165.7 1251.6 1173.1 1252.3 1176.7 1252.7 C1180.2 1253.2 1186.3 1254.5 1189.1 1254.9 C1192.0 1255.3 1175.1 1255.8 1198.0 1255.9 C1220.9 1256.1 1339.2 1255.9 1360.9 1255.9 Z" fill="#9b9b9b" stroke="none"/>
<path d="M1031.0 1255.9 C1034.0 1255.9 1048.9 1256.3 1052.9 1255.9 C1056.9 1255.6 1059.1 1255.1 1060.9 1253.6 C1062.8 1252.1 1065.5 1248.3 1066.6 1244.7 C1067.8 1241.2 1069.1 1234.0 1069.8 1226.9 C1070.6 1219.8 1071.7 1201.5 1072.5 1191.3 C1073.3 1181.1 1075.1 1161.1 1076.1 1150.4 C1077.0 1139.7 1078.7 1119.3 1079.6 1111.2 C1080.6 1103.1 1082.4 1094.1 1083.2 1089.8 C1084.0 1085.6 1084.8 1079.3 1085.3 1079.5 C1085.9 1079.8 1086.6 1086.5 1087.3 1091.6 C1088.0 1096.8 1089.6 1111.9 1090.3 1118.3 C1091.1 1124.7 1092.3 1132.6 1093.0 1139.7 C1093.7 1146.8 1094.8 1163.7 1095.7 1171.7 C1096.5 1179.8 1098.2 1193.8 1099.2 1200.2 C1100.3 1206.6 1102.6 1215.1 1103.7 1219.8 C1104.7 1224.6 1106.0 1232.5 1107.2 1235.8 C1108.4 1239.2 1110.9 1243.0 1112.6 1244.7 C1114.2 1246.4 1117.1 1248.2 1119.7 1248.6 C1122.3 1249.1 1129.1 1247.6 1132.2 1247.9 C1135.2 1248.2 1140.2 1250.4 1142.8 1251.0 C1145.4 1251.5 1149.1 1252.1 1151.7 1252.2 C1154.4 1252.3 1159.1 1251.4 1162.4 1251.5 C1165.7 1251.6 1173.1 1252.3 1176.7 1252.7 C1180.2 1253.2 1186.3 1254.5 1189.1 1254.9 C1192.0 1255.3 1175.1 1255.8 1198.0 1255.9 C1220.9 1256.1 1339.2 1255.9 1360.9 1255.9" fill="none" stroke="#151515" stroke-width="1.3"/>
<path d="M1031.0 1358.0 C1036.4 1358.0 1064.6 1358.6 1071.6 1358.0 C1078.7 1357.5 1081.2 1355.4 1084.1 1353.9 C1086.9 1352.4 1091.1 1348.7 1093.0 1346.8 C1094.9 1344.9 1096.9 1341.8 1098.3 1339.7 C1099.8 1337.6 1102.2 1333.2 1103.7 1330.8 C1105.1 1328.4 1107.6 1325.7 1109.0 1321.9 C1110.4 1318.1 1113.2 1308.5 1114.4 1302.3 C1115.5 1296.1 1117.2 1281.1 1117.9 1275.6 C1118.7 1270.1 1119.3 1264.2 1120.1 1260.8 C1120.8 1257.3 1122.4 1253.4 1123.3 1250.1 C1124.2 1246.7 1126.2 1241.3 1126.8 1235.8 C1127.5 1230.4 1127.8 1215.3 1128.2 1209.1 C1128.7 1203.0 1129.6 1192.6 1130.4 1189.5 C1131.1 1186.5 1133.1 1187.4 1133.9 1186.3 C1134.8 1185.3 1135.9 1181.3 1136.6 1181.5 C1137.3 1181.7 1138.3 1184.1 1138.9 1187.8 C1139.5 1191.4 1140.4 1201.5 1141.1 1209.1 C1141.7 1216.7 1143.0 1236.4 1143.7 1244.7 C1144.4 1253.0 1145.8 1267.6 1146.4 1271.4 C1147.0 1275.3 1147.8 1270.9 1148.2 1273.8 C1148.6 1276.8 1149.0 1286.5 1149.6 1293.4 C1150.2 1300.3 1151.6 1319.0 1152.6 1325.5 C1153.6 1331.9 1155.8 1338.3 1157.1 1341.5 C1158.4 1344.7 1160.0 1348.1 1162.4 1349.5 C1164.8 1350.9 1171.3 1351.3 1174.9 1352.2 C1178.4 1353.0 1184.9 1355.2 1189.1 1356.1 C1193.4 1356.9 1184.0 1358.1 1206.9 1358.4 C1229.8 1358.7 1340.4 1358.4 1360.9 1358.4 Z" fill="#8d98aa" fill-opacity="0.85" stroke="none"/>
<path d="M1031.0 1358.0 C1036.4 1358.0 1064.6 1358.6 1071.6 1358.0 C1078.7 1357.5 1081.2 1355.4 1084.1 1353.9 C1086.9 1352.4 1091.1 1348.7 1093.0 1346.8 C1094.9 1344.9 1096.9 1341.8 1098.3 1339.7 C1099.8 1337.6 1102.2 1333.2 1103.7 1330.8 C1105.1 1328.4 1107.6 1325.7 1109.0 1321.9 C1110.4 1318.1 1113.2 1308.5 1114.4 1302.3 C1115.5 1296.1 1117.2 1281.1 1117.9 1275.6 C1118.7 1270.1 1119.3 1264.2 1120.1 1260.8 C1120.8 1257.3 1122.4 1253.4 1123.3 1250.1 C1124.2 1246.7 1126.2 1241.3 1126.8 1235.8 C1127.5 1230.4 1127.8 1215.3 1128.2 1209.1 C1128.7 1203.0 1129.6 1192.6 1130.4 1189.5 C1131.1 1186.5 1133.1 1187.4 1133.9 1186.3 C1134.8 1185.3 1135.9 1181.3 1136.6 1181.5 C1137.3 1181.7 1138.3 1184.1 1138.9 1187.8 C1139.5 1191.4 1140.4 1201.5 1141.1 1209.1 C1141.7 1216.7 1143.0 1236.4 1143.7 1244.7 C1144.4 1253.0 1145.8 1267.6 1146.4 1271.4 C1147.0 1275.3 1147.8 1270.9 1148.2 1273.8 C1148.6 1276.8 1149.0 1286.5 1149.6 1293.4 C1150.2 1300.3 1151.6 1319.0 1152.6 1325.5 C1153.6 1331.9 1155.8 1338.3 1157.1 1341.5 C1158.4 1344.7 1160.0 1348.1 1162.4 1349.5 C1164.8 1350.9 1171.3 1351.3 1174.9 1352.2 C1178.4 1353.0 1184.9 1355.2 1189.1 1356.1 C1193.4 1356.9 1184.0 1358.1 1206.9 1358.4 C1229.8 1358.7 1340.4 1358.4 1360.9 1358.4" fill="none" stroke="#1b2c4c" stroke-width="1.3"/>
<path d="M1031.0 1461.6 C1037.4 1461.6 1071.4 1462.0 1078.7 1461.6 C1086.1 1461.3 1084.0 1461.0 1085.9 1459.0 C1087.8 1457.0 1091.1 1449.1 1093.0 1446.5 C1094.9 1443.9 1098.0 1441.5 1100.1 1439.4 C1102.2 1437.3 1106.4 1433.1 1109.0 1430.5 C1111.6 1427.9 1117.8 1422.7 1119.7 1419.8 C1121.6 1417.0 1122.3 1413.4 1123.3 1409.1 C1124.2 1404.9 1125.9 1393.7 1126.8 1387.8 C1127.8 1381.8 1129.4 1371.0 1130.4 1364.6 C1131.3 1358.2 1133.1 1348.0 1133.9 1339.7 C1134.8 1331.4 1135.9 1310.4 1136.6 1302.3 C1137.3 1294.2 1138.6 1283.2 1139.3 1279.2 C1140.0 1275.1 1141.2 1271.0 1141.9 1271.7 C1142.7 1272.4 1143.8 1281.8 1144.6 1284.5 C1145.4 1287.2 1147.1 1289.5 1148.2 1291.6 C1149.2 1293.8 1151.4 1296.7 1152.6 1300.5 C1153.8 1304.3 1155.9 1313.5 1157.1 1320.1 C1158.3 1326.8 1160.6 1342.1 1161.5 1350.4 C1162.5 1358.7 1163.4 1373.9 1164.2 1382.4 C1165.0 1391.0 1166.6 1406.6 1167.8 1414.5 C1168.9 1422.3 1171.4 1435.9 1173.1 1441.2 C1174.8 1446.4 1178.3 1451.2 1180.2 1453.6 C1182.1 1456.1 1185.7 1458.3 1187.3 1459.3 C1189.0 1460.3 1169.5 1461.0 1192.7 1461.3 C1215.8 1461.6 1338.5 1461.6 1360.9 1461.6 Z" fill="#e58f9a" fill-opacity="0.75" stroke="none"/>
<path d="M1031.0 1461.6 C1037.4 1461.6 1071.4 1462.0 1078.7 1461.6 C1086.1 1461.3 1084.0 1461.0 1085.9 1459.0 C1087.8 1457.0 1091.1 1449.1 1093.0 1446.5 C1094.9 1443.9 1098.0 1441.5 1100.1 1439.4 C1102.2 1437.3 1106.4 1433.1 1109.0 1430.5 C1111.6 1427.9 1117.8 1422.7 1119.7 1419.8 C1121.6 1417.0 1122.3 1413.4 1123.3 1409.1 C1124.2 1404.9 1125.9 1393.7 1126.8 1387.8 C1127.8 1381.8 1129.4 1371.0 1130.4 1364.6 C1131.3 1358.2 1133.1 1348.0 1133.9 1339.7 C1134.8 1331.4 1135.9 1310.4 1136.6 1302.3 C1137.3 1294.2 1138.6 1283.2 1139.3 1279.2 C1140.0 1275.1 1141.2 1271.0 1141.9 1271.7 C1142.7 1272.4 1143.8 1281.8 1144.6 1284.5 C1145.4 1287.2 1147.1 1289.5 1148.2 1291.6 C1149.2 1293.8 1151.4 1296.7 1152.6 1300.5 C1153.8 1304.3 1155.9 1313.5 1157.1 1320.1 C1158.3 1326.8 1160.6 1342.1 1161.5 1350.4 C1162.5 1358.7 1163.4 1373.9 1164.2 1382.4 C1165.0 1391.0 1166.6 1406.6 1167.8 1414.5 C1168.9 1422.3 1171.4 1435.9 1173.1 1441.2 C1174.8 1446.4 1178.3 1451.2 1180.2 1453.6 C1182.1 1456.1 1185.7 1458.3 1187.3 1459.3 C1189.0 1460.3 1169.5 1461.0 1192.7 1461.3 C1215.8 1461.6 1338.5 1461.6 1360.9 1461.6" fill="none" stroke="#e2323a" stroke-width="1.3"/>
<text x="1198" y="1248" font-size="31.5" class="cr" textLength="148" lengthAdjust="spacingAndGlyphs" fill="#000" style="fill:#000;stroke:#000">Unstained</text>
<text x="1197" y="1343.5" font-size="31.5" class="cr" textLength="108" lengthAdjust="spacingAndGlyphs" fill="#000" style="fill:#000;stroke:#000">Control</text>
<text x="1205" y="1442" font-size="31.5" class="cr" textLength="151" lengthAdjust="spacingAndGlyphs" fill="#000" style="fill:#000;stroke:#000">VLCAD-OE</text>
<text x="1124" y="1504" font-size="19.5" class="cb" textLength="145" lengthAdjust="spacingAndGlyphs" fill="#000" style="fill:#000;stroke:#000">VLCAD-AF488</text>
</g>
<g id="panel-i">
<text x="1414" y="1010" font-size="47" class="lab" textLength="26" lengthAdjust="spacingAndGlyphs">i)</text>
<rect x="1568.0" y="1088.6" width="20.7" height="259.6" fill="#e59735" />
<rect x="1599.0" y="1088.6" width="20.7" height="259.6" fill="#df552f" />
<rect x="1650.3" y="1156.9" width="20.5" height="191.3" fill="#e59735" />
<line x1="1660.5" y1="1120.6" x2="1660.5" y2="1158.4" stroke="#000" stroke-width="3.3" stroke-linecap="round"/>
<line x1="1657.5" y1="1120.6" x2="1663.5" y2="1120.6" stroke="#000" stroke-width="3" stroke-linecap="round"/>
<rect x="1681.3" y="1135.2" width="20.5" height="213.0" fill="#df552f" />
<line x1="1691.5" y1="1134.0" x2="1691.5" y2="1136.7" stroke="#000" stroke-width="3.3" stroke-linecap="round"/>
<line x1="1688.5" y1="1134.0" x2="1694.5" y2="1134.0" stroke="#000" stroke-width="3" stroke-linecap="round"/>
<rect x="1732.4" y="1149.4" width="20.6" height="198.8" fill="#e59735" />
<line x1="1742.7" y1="1123.6" x2="1742.7" y2="1150.9" stroke="#000" stroke-width="3.3" stroke-linecap="round"/>
<line x1="1739.7" y1="1123.6" x2="1745.7" y2="1123.6" stroke="#000" stroke-width="3" stroke-linecap="round"/>
<rect x="1763.3" y="1118.8" width="20.5" height="229.4" fill="#df552f" />
<line x1="1773.5" y1="1117.4" x2="1773.5" y2="1120.3" stroke="#000" stroke-width="3.3" stroke-linecap="round"/>
<line x1="1770.5" y1="1117.4" x2="1776.5" y2="1117.4" stroke="#000" stroke-width="3" stroke-linecap="round"/>
<rect x="1815.0" y="1318.1" width="20.2" height="30.1" fill="#e59735" />
<line x1="1825.1" y1="1314.6" x2="1825.1" y2="1319.6" stroke="#000" stroke-width="3.3" stroke-linecap="round"/>
<line x1="1822.1" y1="1314.6" x2="1828.1" y2="1314.6" stroke="#000" stroke-width="3" stroke-linecap="round"/>
<rect x="1845.6" y="1162.8" width="20.4" height="185.4" fill="#df552f" />
<line x1="1855.8" y1="1158.0" x2="1855.8" y2="1164.3" stroke="#000" stroke-width="3.3" stroke-linecap="round"/>
<line x1="1852.8" y1="1158.0" x2="1858.8" y2="1158.0" stroke="#000" stroke-width="3" stroke-linecap="round"/>
<line x1="1558.4" y1="1034.6" x2="1558.4" y2="1349.8" stroke="#000" stroke-width="3.3" />
<line x1="1544.9" y1="1348.2" x2="1876.5" y2="1348.2" stroke="#000" stroke-width="3.3" />
<line x1="1544.9" y1="1348.2" x2="1558.4" y2="1348.2" stroke="#000" stroke-width="3.2" />
<text x="1539.9" y="1359.0" font-size="29.3" text-anchor="end" fill="#000" style="fill:#000">0</text>
<line x1="1544.9" y1="1296.2" x2="1558.4" y2="1296.2" stroke="#000" stroke-width="3.2" />
<text x="1539.9" y="1307.0" font-size="29.3" text-anchor="end" fill="#000" style="fill:#000">20</text>
<line x1="1544.9" y1="1244.2" x2="1558.4" y2="1244.2" stroke="#000" stroke-width="3.2" />
<text x="1539.9" y="1255.0" font-size="29.3" text-anchor="end" fill="#000" style="fill:#000">40</text>
<line x1="1544.9" y1="1192.2" x2="1558.4" y2="1192.2" stroke="#000" stroke-width="3.2" />
<text x="1539.9" y="1203.0" font-size="29.3" text-anchor="end" fill="#000" style="fill:#000">60</text>
<line x1="1544.9" y1="1140.2" x2="1558.4" y2="1140.2" stroke="#000" stroke-width="3.2" />
<text x="1539.9" y="1151.0" font-size="29.3" text-anchor="end" fill="#000" style="fill:#000">80</text>
<line x1="1544.9" y1="1088.2" x2="1558.4" y2="1088.2" stroke="#000" stroke-width="3.2" />
<text x="1539.9" y="1099.0" font-size="29.3" text-anchor="end" fill="#000" style="fill:#000">100</text>
<line x1="1544.9" y1="1036.2" x2="1558.4" y2="1036.2" stroke="#000" stroke-width="3.2" />
<text x="1539.9" y="1047.0" font-size="29.3" text-anchor="end" fill="#000" style="fill:#000">120</text>
<line x1="1593.6" y1="1348.2" x2="1593.6" y2="1361.5" stroke="#000" stroke-width="3.2" />
<text x="0" y="0" font-size="30.5" textLength="98" lengthAdjust="spacingAndGlyphs" text-anchor="end" fill="#000" style="fill:#000" transform="translate(1600.6 1375.7) rotate(-45)">Control</text>
<line x1="1675.8" y1="1348.2" x2="1675.8" y2="1361.5" stroke="#000" stroke-width="3.2" />
<text x="0" y="0" font-size="30.5" textLength="57.5" lengthAdjust="spacingAndGlyphs" text-anchor="end" fill="#000" style="fill:#000" transform="translate(1682.8 1375.7) rotate(-45)">ATO</text>
<line x1="1757.8" y1="1348.2" x2="1757.8" y2="1361.5" stroke="#000" stroke-width="3.2" />
<text x="0" y="0" font-size="30.5" textLength="59" lengthAdjust="spacingAndGlyphs" text-anchor="end" fill="#000" style="fill:#000" transform="translate(1764.8 1375.7) rotate(-45)">ART</text>
<line x1="1840.7" y1="1348.2" x2="1840.7" y2="1361.5" stroke="#000" stroke-width="3.2" />
<text x="0" y="0" font-size="30.5" textLength="135" lengthAdjust="spacingAndGlyphs" text-anchor="end" fill="#000" style="fill:#000" transform="translate(1847.7 1375.7) rotate(-45)">ATO+ART</text>
<path d="M1824.7 1296 V1129.5 H1855.5 V1140.5" fill="none" stroke="#000" stroke-width="3.2" stroke-linecap="round"/>
<text x="1840.6" y="1129" font-size="41" class="b" textLength="56" lengthAdjust="spacingAndGlyphs" text-anchor="middle" fill="#000" style="fill:#000">****</text>
<text x="0" y="0" font-size="35.5" textLength="245" lengthAdjust="spacingAndGlyphs" fill="#000" style="fill:#000" transform="translate(1475.5 1318) rotate(-90)">% of Viable cells</text>
<rect x="1580.4" y="1501.1" width="33.4" height="21.7" fill="#e59735" />
<rect x="1580.4" y="1544.7" width="33.4" height="21.7" fill="#df552f" />
<text x="1632.5" y="1522.8" font-size="30.3" textLength="186" lengthAdjust="spacingAndGlyphs" fill="#000" style="fill:#000" xml:space="preserve">U937  CNTRL</text>
<text x="1632.5" y="1566.4" font-size="30.3" textLength="228.5" lengthAdjust="spacingAndGlyphs" fill="#000" style="fill:#000">U937 VLCAD OE</text>
</g>
</svg>
</body>
</html>
